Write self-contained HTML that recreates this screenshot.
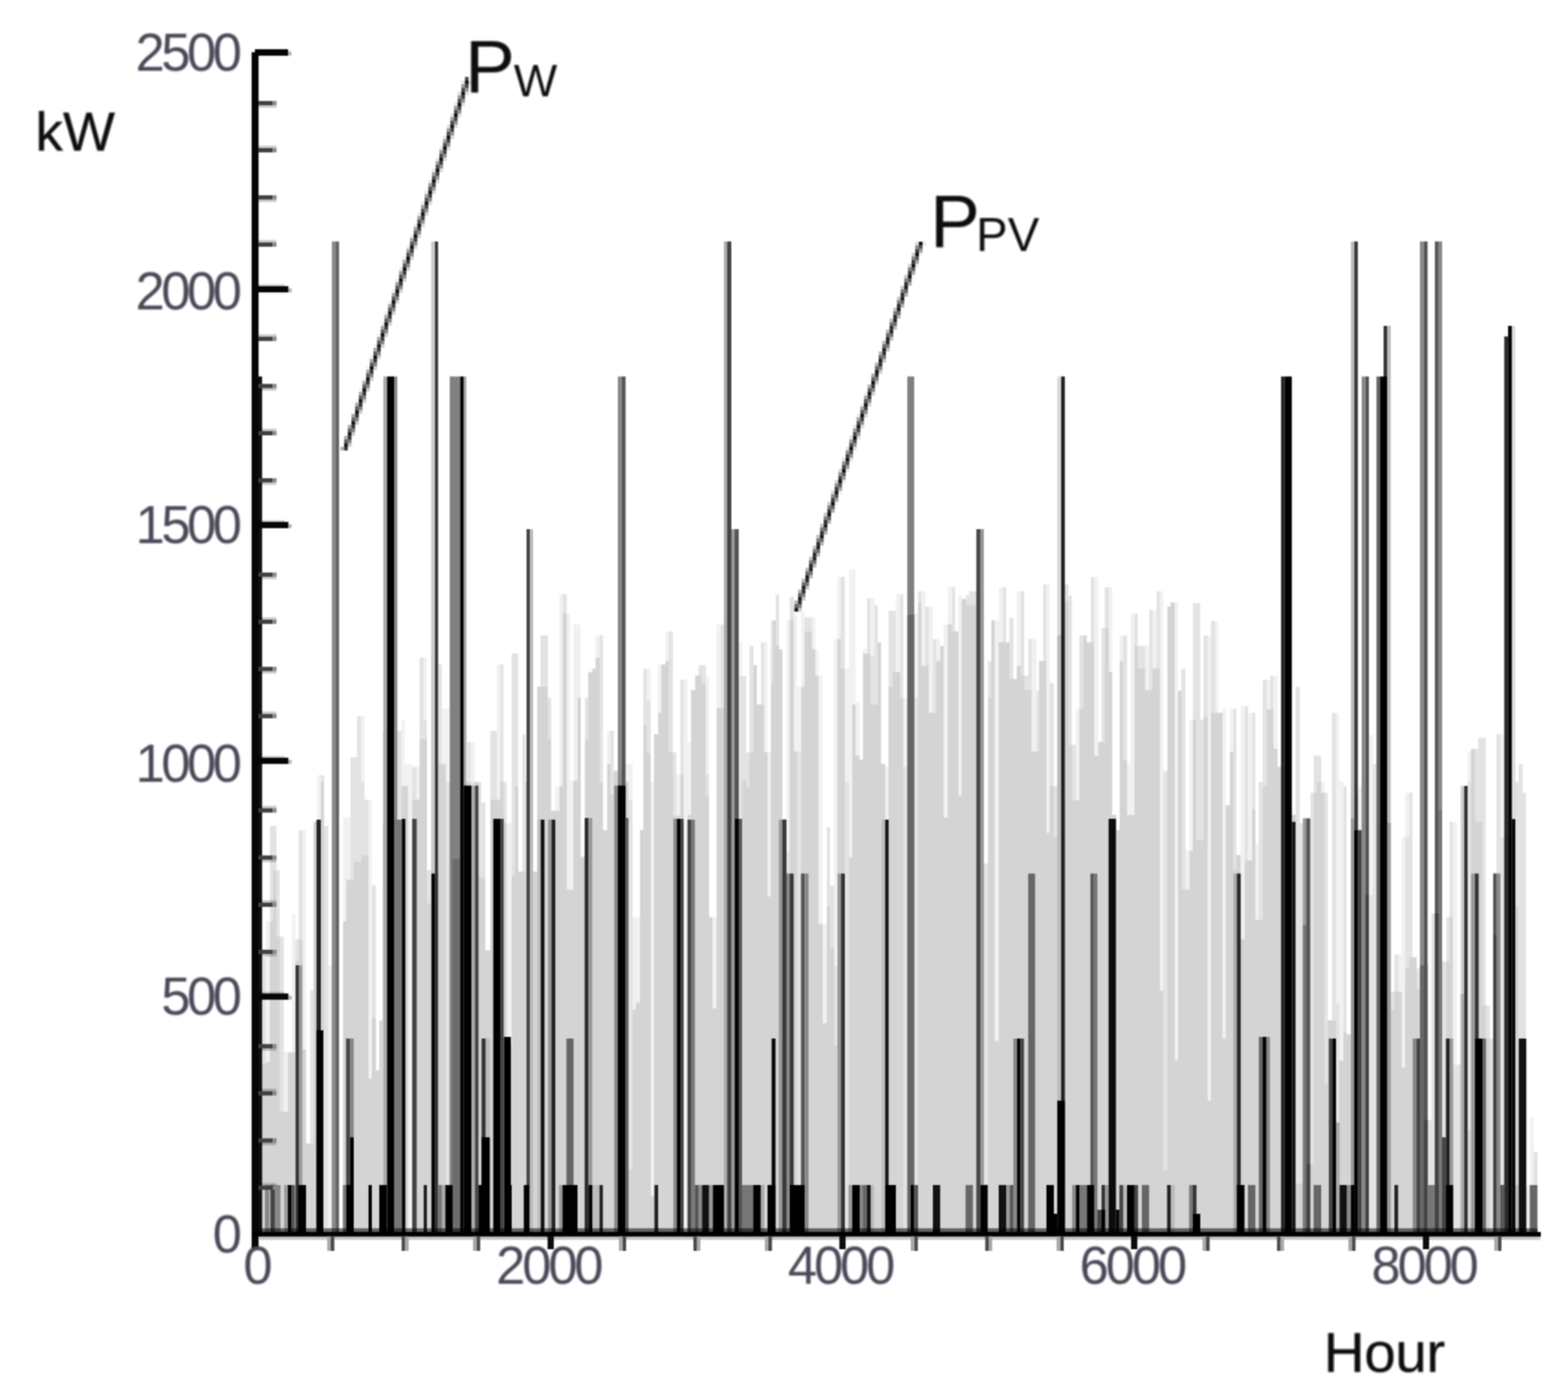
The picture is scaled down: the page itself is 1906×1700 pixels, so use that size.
<!DOCTYPE html>
<html lang="en"><head><meta charset="utf-8"><title>Annual wind and PV power output</title>
<style>html,body{margin:0;padding:0;background:#fff}body{width:1906px;height:1700px;overflow:hidden}svg{display:block}#pw rect{mix-blend-mode:darken}text{font-family:"Liberation Sans",sans-serif}</style>
</head><body>
<svg width="1906" height="1700" viewBox="0 0 1906 1700">
<defs><filter id="b" x="0" y="0" width="1906" height="1700" filterUnits="userSpaceOnUse" color-interpolation-filters="sRGB"><feConvolveMatrix order="3" kernelMatrix="1 2 1 2 4 2 1 2 1" divisor="16" edgeMode="duplicate" preserveAlpha="false"/></filter><filter id="bt" x="-5%" y="-20%" width="110%" height="140%"><feGaussianBlur stdDeviation="1.1"/></filter></defs>
<rect width="1906" height="1700" fill="#fff"/>
<g filter="url(#b)">
<g id="pv">
<rect x="314.0" y="1002.4" width="4.0" height="496.6" fill="#f1f1f1"/>
<rect x="318.0" y="1163.2" width="5.0" height="335.8" fill="#f1f1f1"/>
<rect x="323.0" y="1119.6" width="5.0" height="379.4" fill="#f1f1f1"/>
<rect x="328.0" y="1003.7" width="8.0" height="495.3" fill="#f1f1f1"/>
<rect x="336.0" y="1057.5" width="4.0" height="441.5" fill="#f1f1f1"/>
<rect x="340.0" y="1138.0" width="5.0" height="361.0" fill="#f1f1f1"/>
<rect x="345.0" y="1278.8" width="10.0" height="220.2" fill="#f1f1f1"/>
<rect x="355.0" y="1111.2" width="4.0" height="387.8" fill="#f1f1f1"/>
<rect x="359.0" y="1141.4" width="4.0" height="357.6" fill="#f1f1f1"/>
<rect x="363.0" y="1008.8" width="9.0" height="490.2" fill="#f1f1f1"/>
<rect x="372.0" y="1389.6" width="5.0" height="109.4" fill="#f1f1f1"/>
<rect x="377.0" y="1203.5" width="4.0" height="295.5" fill="#f1f1f1"/>
<rect x="381.0" y="998.7" width="5.0" height="500.3" fill="#f1f1f1"/>
<rect x="386.0" y="941.9" width="8.0" height="557.1" fill="#f1f1f1"/>
<rect x="394.0" y="1003.7" width="5.0" height="495.3" fill="#f1f1f1"/>
<rect x="399.0" y="1173.3" width="13.0" height="325.7" fill="#f1f1f1"/>
<rect x="417.0" y="993.7" width="9.0" height="505.3" fill="#f1f1f1"/>
<rect x="426.0" y="920.1" width="8.0" height="578.9" fill="#f1f1f1"/>
<rect x="434.0" y="870.6" width="9.0" height="628.4" fill="#f1f1f1"/>
<rect x="443.0" y="971.8" width="9.0" height="527.2" fill="#f1f1f1"/>
<rect x="452.0" y="1075.9" width="5.0" height="423.1" fill="#f1f1f1"/>
<rect x="457.0" y="1300.6" width="4.0" height="198.4" fill="#f1f1f1"/>
<rect x="461.0" y="1240.1" width="4.0" height="258.9" fill="#f1f1f1"/>
<rect x="465.0" y="888.2" width="23.0" height="610.8" fill="#f1f1f1"/>
<rect x="488.0" y="874.8" width="4.0" height="624.2" fill="#f1f1f1"/>
<rect x="492.0" y="928.5" width="9.0" height="570.5" fill="#f1f1f1"/>
<rect x="501.0" y="931.8" width="9.0" height="567.2" fill="#f1f1f1"/>
<rect x="510.0" y="799.2" width="9.0" height="699.8" fill="#f1f1f1"/>
<rect x="519.0" y="1057.5" width="5.0" height="441.5" fill="#f1f1f1"/>
<rect x="524.0" y="1060.8" width="9.0" height="438.2" fill="#f1f1f1"/>
<rect x="533.0" y="807.6" width="4.0" height="691.4" fill="#f1f1f1"/>
<rect x="537.0" y="861.3" width="9.0" height="637.7" fill="#f1f1f1"/>
<rect x="546.0" y="950.0" width="22.0" height="549.0" fill="#f1f1f1"/>
<rect x="568.0" y="901.6" width="9.0" height="597.4" fill="#f1f1f1"/>
<rect x="577.0" y="950.0" width="8.0" height="549.0" fill="#f1f1f1"/>
<rect x="585.0" y="975.2" width="5.0" height="523.8" fill="#f1f1f1"/>
<rect x="590.0" y="1154.8" width="6.0" height="344.2" fill="#f1f1f1"/>
<rect x="596.0" y="888.2" width="8.0" height="610.8" fill="#f1f1f1"/>
<rect x="604.0" y="807.6" width="8.0" height="691.4" fill="#f1f1f1"/>
<rect x="612.0" y="950.3" width="4.0" height="548.7" fill="#f1f1f1"/>
<rect x="616.0" y="1000.4" width="6.0" height="498.6" fill="#f1f1f1"/>
<rect x="622.0" y="794.2" width="8.0" height="704.8" fill="#f1f1f1"/>
<rect x="630.0" y="1059.1" width="5.0" height="439.9" fill="#f1f1f1"/>
<rect x="635.0" y="892.4" width="4.0" height="606.6" fill="#f1f1f1"/>
<rect x="639.0" y="950.0" width="9.0" height="549.0" fill="#f1f1f1"/>
<rect x="648.0" y="1059.1" width="5.0" height="439.9" fill="#f1f1f1"/>
<rect x="653.0" y="834.5" width="4.0" height="664.5" fill="#f1f1f1"/>
<rect x="657.0" y="772.0" width="9.0" height="727.0" fill="#f1f1f1"/>
<rect x="666.0" y="847.9" width="4.0" height="651.1" fill="#f1f1f1"/>
<rect x="670.0" y="985.3" width="5.0" height="513.7" fill="#f1f1f1"/>
<rect x="675.0" y="955.4" width="5.0" height="543.6" fill="#f1f1f1"/>
<rect x="680.0" y="722.0" width="9.0" height="777.0" fill="#f1f1f1"/>
<rect x="689.0" y="745.5" width="4.0" height="753.5" fill="#f1f1f1"/>
<rect x="693.0" y="948.6" width="4.0" height="550.4" fill="#f1f1f1"/>
<rect x="697.0" y="758.9" width="9.0" height="740.1" fill="#f1f1f1"/>
<rect x="706.0" y="1041.5" width="5.0" height="457.5" fill="#f1f1f1"/>
<rect x="711.0" y="847.9" width="4.0" height="651.1" fill="#f1f1f1"/>
<rect x="715.0" y="816.8" width="5.0" height="682.2" fill="#f1f1f1"/>
<rect x="720.0" y="812.6" width="4.0" height="686.4" fill="#f1f1f1"/>
<rect x="724.0" y="772.3" width="5.0" height="726.7" fill="#f1f1f1"/>
<rect x="729.0" y="772.0" width="4.0" height="727.0" fill="#f1f1f1"/>
<rect x="733.0" y="1008.8" width="5.0" height="490.2" fill="#f1f1f1"/>
<rect x="738.0" y="888.2" width="8.0" height="610.8" fill="#f1f1f1"/>
<rect x="746.0" y="936.9" width="14.0" height="562.1" fill="#f1f1f1"/>
<rect x="760.0" y="928.5" width="9.0" height="570.5" fill="#f1f1f1"/>
<rect x="769.0" y="1114.5" width="9.0" height="384.5" fill="#f1f1f1"/>
<rect x="778.0" y="1008.8" width="4.0" height="490.2" fill="#f1f1f1"/>
<rect x="782.0" y="812.6" width="9.0" height="686.4" fill="#f1f1f1"/>
<rect x="791.0" y="950.0" width="4.0" height="549.0" fill="#f1f1f1"/>
<rect x="795.0" y="892.4" width="5.0" height="606.6" fill="#f1f1f1"/>
<rect x="800.0" y="807.6" width="9.0" height="691.4" fill="#f1f1f1"/>
<rect x="809.0" y="767.3" width="9.0" height="731.7" fill="#f1f1f1"/>
<rect x="818.0" y="914.2" width="4.0" height="584.8" fill="#f1f1f1"/>
<rect x="822.0" y="941.1" width="5.0" height="557.9" fill="#f1f1f1"/>
<rect x="827.0" y="826.1" width="9.0" height="672.9" fill="#f1f1f1"/>
<rect x="836.0" y="901.6" width="4.0" height="597.4" fill="#f1f1f1"/>
<rect x="840.0" y="838.7" width="5.0" height="660.3" fill="#f1f1f1"/>
<rect x="845.0" y="821.0" width="4.0" height="678.0" fill="#f1f1f1"/>
<rect x="849.0" y="808.4" width="9.0" height="690.6" fill="#f1f1f1"/>
<rect x="858.0" y="821.0" width="4.0" height="678.0" fill="#f1f1f1"/>
<rect x="862.0" y="1114.5" width="9.0" height="384.5" fill="#f1f1f1"/>
<rect x="871.0" y="758.9" width="9.0" height="740.1" fill="#f1f1f1"/>
<rect x="880.0" y="753.9" width="18.0" height="745.1" fill="#f1f1f1"/>
<rect x="898.0" y="780.7" width="4.0" height="718.3" fill="#f1f1f1"/>
<rect x="902.0" y="821.0" width="5.0" height="678.0" fill="#f1f1f1"/>
<rect x="907.0" y="914.2" width="4.0" height="584.8" fill="#f1f1f1"/>
<rect x="911.0" y="784.9" width="5.0" height="714.1" fill="#f1f1f1"/>
<rect x="916.0" y="808.4" width="4.0" height="690.6" fill="#f1f1f1"/>
<rect x="920.0" y="856.3" width="5.0" height="642.7" fill="#f1f1f1"/>
<rect x="925.0" y="780.7" width="8.0" height="718.3" fill="#f1f1f1"/>
<rect x="933.0" y="914.2" width="4.0" height="584.8" fill="#f1f1f1"/>
<rect x="937.0" y="753.9" width="6.0" height="745.1" fill="#f1f1f1"/>
<rect x="943.0" y="722.0" width="4.0" height="777.0" fill="#f1f1f1"/>
<rect x="947.0" y="789.1" width="4.0" height="709.9" fill="#f1f1f1"/>
<rect x="951.0" y="995.3" width="5.0" height="503.7" fill="#f1f1f1"/>
<rect x="956.0" y="753.9" width="4.0" height="745.1" fill="#f1f1f1"/>
<rect x="960.0" y="725.3" width="5.0" height="773.7" fill="#f1f1f1"/>
<rect x="965.0" y="747.2" width="4.0" height="751.8" fill="#f1f1f1"/>
<rect x="969.0" y="834.5" width="5.0" height="664.5" fill="#f1f1f1"/>
<rect x="974.0" y="743.8" width="4.0" height="755.2" fill="#f1f1f1"/>
<rect x="978.0" y="750.5" width="13.0" height="748.5" fill="#f1f1f1"/>
<rect x="991.0" y="789.1" width="4.0" height="709.9" fill="#f1f1f1"/>
<rect x="995.0" y="821.0" width="5.0" height="678.0" fill="#f1f1f1"/>
<rect x="1000.0" y="1122.9" width="5.0" height="376.1" fill="#f1f1f1"/>
<rect x="1005.0" y="1005.4" width="4.0" height="493.6" fill="#f1f1f1"/>
<rect x="1009.0" y="1075.9" width="5.0" height="423.1" fill="#f1f1f1"/>
<rect x="1014.0" y="776.5" width="4.0" height="722.5" fill="#f1f1f1"/>
<rect x="1018.0" y="701.0" width="9.0" height="798.0" fill="#f1f1f1"/>
<rect x="1027.0" y="812.6" width="5.0" height="686.4" fill="#f1f1f1"/>
<rect x="1032.0" y="691.8" width="8.0" height="807.2" fill="#f1f1f1"/>
<rect x="1040.0" y="852.9" width="5.0" height="646.1" fill="#f1f1f1"/>
<rect x="1045.0" y="923.5" width="4.0" height="575.5" fill="#f1f1f1"/>
<rect x="1049.0" y="789.1" width="5.0" height="709.9" fill="#f1f1f1"/>
<rect x="1054.0" y="727.0" width="9.0" height="772.0" fill="#f1f1f1"/>
<rect x="1063.0" y="735.4" width="4.0" height="763.6" fill="#f1f1f1"/>
<rect x="1067.0" y="780.7" width="4.0" height="718.3" fill="#f1f1f1"/>
<rect x="1071.0" y="928.5" width="5.0" height="570.5" fill="#f1f1f1"/>
<rect x="1076.0" y="931.8" width="4.0" height="567.2" fill="#f1f1f1"/>
<rect x="1080.0" y="742.1" width="9.0" height="756.9" fill="#f1f1f1"/>
<rect x="1089.0" y="722.0" width="9.0" height="777.0" fill="#f1f1f1"/>
<rect x="1098.0" y="847.9" width="5.0" height="651.1" fill="#f1f1f1"/>
<rect x="1103.0" y="747.2" width="8.0" height="751.8" fill="#f1f1f1"/>
<rect x="1111.0" y="745.5" width="5.0" height="753.5" fill="#f1f1f1"/>
<rect x="1116.0" y="718.6" width="9.0" height="780.4" fill="#f1f1f1"/>
<rect x="1125.0" y="737.1" width="9.0" height="761.9" fill="#f1f1f1"/>
<rect x="1134.0" y="776.5" width="9.0" height="722.5" fill="#f1f1f1"/>
<rect x="1143.0" y="784.9" width="4.0" height="714.1" fill="#f1f1f1"/>
<rect x="1147.0" y="758.9" width="5.0" height="740.1" fill="#f1f1f1"/>
<rect x="1152.0" y="713.6" width="9.0" height="785.4" fill="#f1f1f1"/>
<rect x="1161.0" y="767.3" width="4.0" height="731.7" fill="#f1f1f1"/>
<rect x="1165.0" y="723.7" width="4.0" height="775.3" fill="#f1f1f1"/>
<rect x="1169.0" y="727.9" width="5.0" height="771.1" fill="#f1f1f1"/>
<rect x="1174.0" y="723.7" width="4.0" height="775.3" fill="#f1f1f1"/>
<rect x="1178.0" y="718.6" width="9.0" height="780.4" fill="#f1f1f1"/>
<rect x="1187.0" y="735.4" width="9.0" height="763.6" fill="#f1f1f1"/>
<rect x="1196.0" y="1049.1" width="5.0" height="449.9" fill="#f1f1f1"/>
<rect x="1201.0" y="803.4" width="4.0" height="695.6" fill="#f1f1f1"/>
<rect x="1205.0" y="753.9" width="9.0" height="745.1" fill="#f1f1f1"/>
<rect x="1214.0" y="713.6" width="9.0" height="785.4" fill="#f1f1f1"/>
<rect x="1223.0" y="780.7" width="4.0" height="718.3" fill="#f1f1f1"/>
<rect x="1227.0" y="750.5" width="5.0" height="748.5" fill="#f1f1f1"/>
<rect x="1232.0" y="825.2" width="4.0" height="673.8" fill="#f1f1f1"/>
<rect x="1236.0" y="718.6" width="9.0" height="780.4" fill="#f1f1f1"/>
<rect x="1245.0" y="821.0" width="5.0" height="678.0" fill="#f1f1f1"/>
<rect x="1250.0" y="776.5" width="10.0" height="722.5" fill="#f1f1f1"/>
<rect x="1260.0" y="839.5" width="3.0" height="659.5" fill="#f1f1f1"/>
<rect x="1263.0" y="803.4" width="5.0" height="695.6" fill="#f1f1f1"/>
<rect x="1268.0" y="710.2" width="8.0" height="788.8" fill="#f1f1f1"/>
<rect x="1276.0" y="830.3" width="5.0" height="668.7" fill="#f1f1f1"/>
<rect x="1281.0" y="955.4" width="4.0" height="543.6" fill="#f1f1f1"/>
<rect x="1285.0" y="772.3" width="9.0" height="726.7" fill="#f1f1f1"/>
<rect x="1294.0" y="710.2" width="5.0" height="788.8" fill="#f1f1f1"/>
<rect x="1299.0" y="723.7" width="4.0" height="775.3" fill="#f1f1f1"/>
<rect x="1303.0" y="905.0" width="5.0" height="594.0" fill="#f1f1f1"/>
<rect x="1308.0" y="861.3" width="4.0" height="637.7" fill="#f1f1f1"/>
<rect x="1312.0" y="772.3" width="9.0" height="726.7" fill="#f1f1f1"/>
<rect x="1321.0" y="780.7" width="5.0" height="718.3" fill="#f1f1f1"/>
<rect x="1326.0" y="701.0" width="9.0" height="798.0" fill="#f1f1f1"/>
<rect x="1335.0" y="901.6" width="4.0" height="597.4" fill="#f1f1f1"/>
<rect x="1339.0" y="763.1" width="4.0" height="735.9" fill="#f1f1f1"/>
<rect x="1343.0" y="713.6" width="9.0" height="785.4" fill="#f1f1f1"/>
<rect x="1352.0" y="990.3" width="5.0" height="508.7" fill="#f1f1f1"/>
<rect x="1357.0" y="1008.8" width="4.0" height="490.2" fill="#f1f1f1"/>
<rect x="1361.0" y="772.3" width="9.0" height="726.7" fill="#f1f1f1"/>
<rect x="1370.0" y="928.5" width="4.0" height="570.5" fill="#f1f1f1"/>
<rect x="1374.0" y="745.5" width="9.0" height="753.5" fill="#f1f1f1"/>
<rect x="1383.0" y="784.9" width="14.0" height="714.1" fill="#f1f1f1"/>
<rect x="1397.0" y="741.3" width="9.0" height="757.7" fill="#f1f1f1"/>
<rect x="1406.0" y="718.6" width="8.0" height="780.4" fill="#f1f1f1"/>
<rect x="1414.0" y="936.9" width="5.0" height="562.1" fill="#f1f1f1"/>
<rect x="1419.0" y="737.1" width="4.0" height="761.9" fill="#f1f1f1"/>
<rect x="1423.0" y="732.0" width="9.0" height="767.0" fill="#f1f1f1"/>
<rect x="1432.0" y="839.5" width="4.0" height="659.5" fill="#f1f1f1"/>
<rect x="1436.0" y="812.6" width="5.0" height="686.4" fill="#f1f1f1"/>
<rect x="1441.0" y="1033.9" width="5.0" height="465.1" fill="#f1f1f1"/>
<rect x="1446.0" y="874.8" width="4.0" height="624.2" fill="#f1f1f1"/>
<rect x="1450.0" y="732.9" width="9.0" height="766.1" fill="#f1f1f1"/>
<rect x="1459.0" y="874.8" width="4.0" height="624.2" fill="#f1f1f1"/>
<rect x="1463.0" y="772.3" width="9.0" height="726.7" fill="#f1f1f1"/>
<rect x="1472.0" y="754.7" width="9.0" height="744.3" fill="#f1f1f1"/>
<rect x="1481.0" y="866.4" width="5.0" height="632.6" fill="#f1f1f1"/>
<rect x="1486.0" y="861.3" width="4.0" height="637.7" fill="#f1f1f1"/>
<rect x="1490.0" y="978.5" width="5.0" height="520.5" fill="#f1f1f1"/>
<rect x="1495.0" y="861.3" width="8.0" height="637.7" fill="#f1f1f1"/>
<rect x="1503.0" y="1039.0" width="5.0" height="460.0" fill="#f1f1f1"/>
<rect x="1508.0" y="858.0" width="9.0" height="641.0" fill="#f1f1f1"/>
<rect x="1517.0" y="866.4" width="9.0" height="632.6" fill="#f1f1f1"/>
<rect x="1526.0" y="1025.6" width="4.0" height="473.4" fill="#f1f1f1"/>
<rect x="1530.0" y="950.3" width="5.0" height="548.7" fill="#f1f1f1"/>
<rect x="1535.0" y="826.1" width="9.0" height="672.9" fill="#f1f1f1"/>
<rect x="1544.0" y="821.0" width="9.0" height="678.0" fill="#f1f1f1"/>
<rect x="1553.0" y="931.8" width="17.0" height="567.2" fill="#f1f1f1"/>
<rect x="1570.0" y="990.3" width="5.0" height="508.7" fill="#f1f1f1"/>
<rect x="1575.0" y="834.5" width="5.0" height="664.5" fill="#f1f1f1"/>
<rect x="1580.0" y="1000.4" width="4.0" height="498.6" fill="#f1f1f1"/>
<rect x="1584.0" y="994.5" width="9.0" height="504.5" fill="#f1f1f1"/>
<rect x="1593.0" y="963.7" width="4.0" height="535.3" fill="#f1f1f1"/>
<rect x="1597.0" y="918.4" width="9.0" height="580.6" fill="#f1f1f1"/>
<rect x="1606.0" y="950.3" width="4.0" height="548.7" fill="#f1f1f1"/>
<rect x="1610.0" y="963.4" width="4.0" height="535.6" fill="#f1f1f1"/>
<rect x="1614.0" y="1240.1" width="5.0" height="258.9" fill="#f1f1f1"/>
<rect x="1619.0" y="866.4" width="9.0" height="632.6" fill="#f1f1f1"/>
<rect x="1628.0" y="950.0" width="5.0" height="549.0" fill="#f1f1f1"/>
<rect x="1633.0" y="955.4" width="4.0" height="543.6" fill="#f1f1f1"/>
<rect x="1637.0" y="1256.9" width="5.0" height="242.1" fill="#f1f1f1"/>
<rect x="1642.0" y="965.4" width="9.0" height="533.6" fill="#f1f1f1"/>
<rect x="1651.0" y="955.4" width="4.0" height="543.6" fill="#f1f1f1"/>
<rect x="1655.0" y="950.0" width="9.0" height="549.0" fill="#f1f1f1"/>
<rect x="1664.0" y="893.2" width="5.0" height="605.8" fill="#f1f1f1"/>
<rect x="1669.0" y="928.5" width="4.0" height="570.5" fill="#f1f1f1"/>
<rect x="1673.0" y="1000.4" width="17.0" height="498.6" fill="#f1f1f1"/>
<rect x="1690.0" y="1205.2" width="5.0" height="293.8" fill="#f1f1f1"/>
<rect x="1695.0" y="1159.9" width="9.0" height="339.1" fill="#f1f1f1"/>
<rect x="1704.0" y="1017.2" width="4.0" height="481.8" fill="#f1f1f1"/>
<rect x="1708.0" y="963.4" width="9.0" height="535.6" fill="#f1f1f1"/>
<rect x="1717.0" y="1163.2" width="5.0" height="335.8" fill="#f1f1f1"/>
<rect x="1722.0" y="1176.7" width="4.0" height="322.3" fill="#f1f1f1"/>
<rect x="1726.0" y="1173.3" width="9.0" height="325.7" fill="#f1f1f1"/>
<rect x="1735.0" y="1361.0" width="5.0" height="138.0" fill="#f1f1f1"/>
<rect x="1740.0" y="1110.3" width="13.0" height="388.7" fill="#f1f1f1"/>
<rect x="1753.0" y="1168.3" width="5.0" height="330.7" fill="#f1f1f1"/>
<rect x="1758.0" y="1114.5" width="4.0" height="384.5" fill="#f1f1f1"/>
<rect x="1762.0" y="998.7" width="9.0" height="500.3" fill="#f1f1f1"/>
<rect x="1771.0" y="1293.9" width="5.0" height="205.1" fill="#f1f1f1"/>
<rect x="1776.0" y="955.0" width="8.0" height="544.0" fill="#f1f1f1"/>
<rect x="1784.0" y="914.2" width="4.0" height="584.8" fill="#f1f1f1"/>
<rect x="1788.0" y="910.0" width="9.0" height="589.0" fill="#f1f1f1"/>
<rect x="1797.0" y="896.6" width="9.0" height="602.4" fill="#f1f1f1"/>
<rect x="1806.0" y="1222.0" width="5.0" height="277.0" fill="#f1f1f1"/>
<rect x="1811.0" y="1262.0" width="4.0" height="237.0" fill="#f1f1f1"/>
<rect x="1815.0" y="1060.8" width="4.0" height="438.2" fill="#f1f1f1"/>
<rect x="1819.0" y="892.4" width="9.0" height="606.6" fill="#f1f1f1"/>
<rect x="1828.0" y="1017.2" width="14.0" height="481.8" fill="#f1f1f1"/>
<rect x="1842.0" y="950.0" width="4.0" height="549.0" fill="#f1f1f1"/>
<rect x="1846.0" y="928.5" width="5.0" height="570.5" fill="#f1f1f1"/>
<rect x="1851.0" y="963.4" width="4.0" height="535.6" fill="#f1f1f1"/>
<rect x="1855.0" y="1440.8" width="5.0" height="58.2" fill="#f1f1f1"/>
<rect x="1860.0" y="1357.7" width="4.0" height="141.3" fill="#f1f1f1"/>
<rect x="1864.0" y="1399.7" width="5.0" height="99.3" fill="#f1f1f1"/>
<rect x="314.0" y="1006.0" width="4.0" height="493.0" fill="#e3e3e3"/>
<rect x="318.0" y="1163.2" width="5.0" height="335.8" fill="#e3e3e3"/>
<rect x="323.0" y="1290.5" width="5.0" height="208.5" fill="#e3e3e3"/>
<rect x="328.0" y="1003.7" width="8.0" height="495.3" fill="#e3e3e3"/>
<rect x="336.0" y="1057.5" width="4.0" height="441.5" fill="#e3e3e3"/>
<rect x="340.0" y="1138.0" width="5.0" height="361.0" fill="#e3e3e3"/>
<rect x="345.0" y="1351.0" width="5.0" height="148.0" fill="#e3e3e3"/>
<rect x="350.0" y="1278.8" width="9.0" height="220.2" fill="#e3e3e3"/>
<rect x="359.0" y="1141.4" width="4.0" height="357.6" fill="#e3e3e3"/>
<rect x="363.0" y="1008.8" width="5.0" height="490.2" fill="#e3e3e3"/>
<rect x="368.0" y="1275.4" width="4.0" height="223.6" fill="#e3e3e3"/>
<rect x="372.0" y="1389.6" width="5.0" height="109.4" fill="#e3e3e3"/>
<rect x="377.0" y="1203.5" width="4.0" height="295.5" fill="#e3e3e3"/>
<rect x="381.0" y="998.7" width="9.0" height="500.3" fill="#e3e3e3"/>
<rect x="390.0" y="941.9" width="4.0" height="557.1" fill="#e3e3e3"/>
<rect x="394.0" y="1003.7" width="5.0" height="495.3" fill="#e3e3e3"/>
<rect x="403.0" y="1173.3" width="9.0" height="325.7" fill="#e3e3e3"/>
<rect x="417.0" y="1119.6" width="4.0" height="379.4" fill="#e3e3e3"/>
<rect x="421.0" y="1069.2" width="5.0" height="429.8" fill="#e3e3e3"/>
<rect x="426.0" y="920.1" width="8.0" height="578.9" fill="#e3e3e3"/>
<rect x="434.0" y="870.6" width="5.0" height="628.4" fill="#e3e3e3"/>
<rect x="439.0" y="950.0" width="4.0" height="549.0" fill="#e3e3e3"/>
<rect x="443.0" y="971.8" width="5.0" height="527.2" fill="#e3e3e3"/>
<rect x="448.0" y="1310.7" width="4.0" height="188.3" fill="#e3e3e3"/>
<rect x="452.0" y="1075.9" width="5.0" height="423.1" fill="#e3e3e3"/>
<rect x="457.0" y="1300.6" width="4.0" height="198.4" fill="#e3e3e3"/>
<rect x="461.0" y="1240.1" width="4.0" height="258.9" fill="#e3e3e3"/>
<rect x="465.0" y="888.2" width="23.0" height="610.8" fill="#e3e3e3"/>
<rect x="488.0" y="955.4" width="8.0" height="543.6" fill="#e3e3e3"/>
<rect x="501.0" y="931.8" width="5.0" height="567.2" fill="#e3e3e3"/>
<rect x="506.0" y="971.8" width="4.0" height="527.2" fill="#e3e3e3"/>
<rect x="510.0" y="799.2" width="5.0" height="699.8" fill="#e3e3e3"/>
<rect x="515.0" y="874.8" width="4.0" height="624.2" fill="#e3e3e3"/>
<rect x="519.0" y="1057.5" width="5.0" height="441.5" fill="#e3e3e3"/>
<rect x="524.0" y="1060.8" width="9.0" height="438.2" fill="#e3e3e3"/>
<rect x="533.0" y="807.6" width="4.0" height="691.4" fill="#e3e3e3"/>
<rect x="537.0" y="928.5" width="5.0" height="570.5" fill="#e3e3e3"/>
<rect x="542.0" y="950.0" width="26.0" height="549.0" fill="#e3e3e3"/>
<rect x="568.0" y="901.6" width="4.0" height="597.4" fill="#e3e3e3"/>
<rect x="572.0" y="950.0" width="13.0" height="549.0" fill="#e3e3e3"/>
<rect x="585.0" y="975.2" width="5.0" height="523.8" fill="#e3e3e3"/>
<rect x="590.0" y="1154.8" width="6.0" height="344.2" fill="#e3e3e3"/>
<rect x="596.0" y="888.2" width="8.0" height="610.8" fill="#e3e3e3"/>
<rect x="604.0" y="971.8" width="4.0" height="527.2" fill="#e3e3e3"/>
<rect x="608.0" y="807.6" width="4.0" height="691.4" fill="#e3e3e3"/>
<rect x="612.0" y="950.3" width="4.0" height="548.7" fill="#e3e3e3"/>
<rect x="616.0" y="1270.4" width="6.0" height="228.6" fill="#e3e3e3"/>
<rect x="622.0" y="794.2" width="8.0" height="704.8" fill="#e3e3e3"/>
<rect x="630.0" y="1059.1" width="5.0" height="439.9" fill="#e3e3e3"/>
<rect x="635.0" y="892.4" width="4.0" height="606.6" fill="#e3e3e3"/>
<rect x="639.0" y="950.0" width="9.0" height="549.0" fill="#e3e3e3"/>
<rect x="648.0" y="1059.1" width="5.0" height="439.9" fill="#e3e3e3"/>
<rect x="653.0" y="834.5" width="4.0" height="664.5" fill="#e3e3e3"/>
<rect x="657.0" y="772.0" width="9.0" height="727.0" fill="#e3e3e3"/>
<rect x="666.0" y="847.9" width="4.0" height="651.1" fill="#e3e3e3"/>
<rect x="670.0" y="985.3" width="10.0" height="513.7" fill="#e3e3e3"/>
<rect x="680.0" y="955.4" width="4.0" height="543.6" fill="#e3e3e3"/>
<rect x="684.0" y="722.0" width="5.0" height="777.0" fill="#e3e3e3"/>
<rect x="689.0" y="1081.0" width="8.0" height="418.0" fill="#e3e3e3"/>
<rect x="697.0" y="948.6" width="5.0" height="550.4" fill="#e3e3e3"/>
<rect x="702.0" y="847.9" width="4.0" height="651.1" fill="#e3e3e3"/>
<rect x="706.0" y="1041.5" width="5.0" height="457.5" fill="#e3e3e3"/>
<rect x="711.0" y="847.9" width="4.0" height="651.1" fill="#e3e3e3"/>
<rect x="715.0" y="816.8" width="5.0" height="682.2" fill="#e3e3e3"/>
<rect x="720.0" y="812.6" width="4.0" height="686.4" fill="#e3e3e3"/>
<rect x="724.0" y="799.2" width="5.0" height="699.8" fill="#e3e3e3"/>
<rect x="729.0" y="772.0" width="4.0" height="727.0" fill="#e3e3e3"/>
<rect x="733.0" y="1008.8" width="5.0" height="490.2" fill="#e3e3e3"/>
<rect x="738.0" y="928.5" width="4.0" height="570.5" fill="#e3e3e3"/>
<rect x="742.0" y="888.2" width="4.0" height="610.8" fill="#e3e3e3"/>
<rect x="746.0" y="936.9" width="14.0" height="562.1" fill="#e3e3e3"/>
<rect x="760.0" y="950.0" width="4.0" height="549.0" fill="#e3e3e3"/>
<rect x="764.0" y="971.8" width="5.0" height="527.2" fill="#e3e3e3"/>
<rect x="769.0" y="1227.0" width="4.0" height="272.0" fill="#e3e3e3"/>
<rect x="773.0" y="1218.6" width="5.0" height="280.4" fill="#e3e3e3"/>
<rect x="778.0" y="1008.8" width="4.0" height="490.2" fill="#e3e3e3"/>
<rect x="782.0" y="812.6" width="4.0" height="686.4" fill="#e3e3e3"/>
<rect x="786.0" y="851.3" width="5.0" height="647.7" fill="#e3e3e3"/>
<rect x="791.0" y="1453.4" width="4.0" height="45.6" fill="#e3e3e3"/>
<rect x="795.0" y="892.4" width="5.0" height="606.6" fill="#e3e3e3"/>
<rect x="800.0" y="866.4" width="4.0" height="632.6" fill="#e3e3e3"/>
<rect x="804.0" y="807.6" width="5.0" height="691.4" fill="#e3e3e3"/>
<rect x="809.0" y="803.4" width="4.0" height="695.6" fill="#e3e3e3"/>
<rect x="813.0" y="767.3" width="5.0" height="731.7" fill="#e3e3e3"/>
<rect x="818.0" y="914.2" width="4.0" height="584.8" fill="#e3e3e3"/>
<rect x="822.0" y="991.1" width="5.0" height="507.9" fill="#e3e3e3"/>
<rect x="827.0" y="826.1" width="4.0" height="672.9" fill="#e3e3e3"/>
<rect x="836.0" y="990.3" width="4.0" height="508.7" fill="#e3e3e3"/>
<rect x="840.0" y="838.7" width="5.0" height="660.3" fill="#e3e3e3"/>
<rect x="845.0" y="821.0" width="4.0" height="678.0" fill="#e3e3e3"/>
<rect x="849.0" y="808.4" width="9.0" height="690.6" fill="#e3e3e3"/>
<rect x="858.0" y="941.1" width="4.0" height="557.9" fill="#e3e3e3"/>
<rect x="862.0" y="1114.5" width="4.0" height="384.5" fill="#e3e3e3"/>
<rect x="866.0" y="1225.4" width="5.0" height="273.6" fill="#e3e3e3"/>
<rect x="871.0" y="860.5" width="5.0" height="638.5" fill="#e3e3e3"/>
<rect x="876.0" y="758.9" width="4.0" height="740.1" fill="#e3e3e3"/>
<rect x="880.0" y="753.9" width="18.0" height="745.1" fill="#e3e3e3"/>
<rect x="898.0" y="821.0" width="9.0" height="678.0" fill="#e3e3e3"/>
<rect x="907.0" y="914.2" width="4.0" height="584.8" fill="#e3e3e3"/>
<rect x="911.0" y="784.9" width="5.0" height="714.1" fill="#e3e3e3"/>
<rect x="916.0" y="808.4" width="4.0" height="690.6" fill="#e3e3e3"/>
<rect x="920.0" y="856.3" width="5.0" height="642.7" fill="#e3e3e3"/>
<rect x="925.0" y="780.7" width="4.0" height="718.3" fill="#e3e3e3"/>
<rect x="929.0" y="914.2" width="4.0" height="584.8" fill="#e3e3e3"/>
<rect x="933.0" y="1089.4" width="4.0" height="409.6" fill="#e3e3e3"/>
<rect x="937.0" y="753.9" width="6.0" height="745.1" fill="#e3e3e3"/>
<rect x="943.0" y="722.0" width="4.0" height="777.0" fill="#e3e3e3"/>
<rect x="947.0" y="789.1" width="4.0" height="709.9" fill="#e3e3e3"/>
<rect x="951.0" y="995.3" width="5.0" height="503.7" fill="#e3e3e3"/>
<rect x="956.0" y="1035.6" width="4.0" height="463.4" fill="#e3e3e3"/>
<rect x="960.0" y="725.3" width="5.0" height="773.7" fill="#e3e3e3"/>
<rect x="965.0" y="913.4" width="9.0" height="585.6" fill="#e3e3e3"/>
<rect x="974.0" y="834.5" width="4.0" height="664.5" fill="#e3e3e3"/>
<rect x="978.0" y="750.5" width="9.0" height="748.5" fill="#e3e3e3"/>
<rect x="987.0" y="789.1" width="4.0" height="709.9" fill="#e3e3e3"/>
<rect x="991.0" y="821.0" width="4.0" height="678.0" fill="#e3e3e3"/>
<rect x="995.0" y="1122.9" width="5.0" height="376.1" fill="#e3e3e3"/>
<rect x="1000.0" y="1243.5" width="5.0" height="255.5" fill="#e3e3e3"/>
<rect x="1005.0" y="1005.4" width="4.0" height="493.6" fill="#e3e3e3"/>
<rect x="1009.0" y="1075.9" width="5.0" height="423.1" fill="#e3e3e3"/>
<rect x="1014.0" y="1173.3" width="4.0" height="325.7" fill="#e3e3e3"/>
<rect x="1018.0" y="776.5" width="4.0" height="722.5" fill="#e3e3e3"/>
<rect x="1022.0" y="701.0" width="5.0" height="798.0" fill="#e3e3e3"/>
<rect x="1027.0" y="950.0" width="5.0" height="549.0" fill="#e3e3e3"/>
<rect x="1032.0" y="1042.3" width="4.0" height="456.7" fill="#e3e3e3"/>
<rect x="1036.0" y="856.3" width="4.0" height="642.7" fill="#e3e3e3"/>
<rect x="1040.0" y="918.4" width="5.0" height="580.6" fill="#e3e3e3"/>
<rect x="1045.0" y="923.5" width="4.0" height="575.5" fill="#e3e3e3"/>
<rect x="1049.0" y="794.2" width="5.0" height="704.8" fill="#e3e3e3"/>
<rect x="1054.0" y="727.0" width="4.0" height="772.0" fill="#e3e3e3"/>
<rect x="1058.0" y="797.5" width="5.0" height="701.5" fill="#e3e3e3"/>
<rect x="1063.0" y="735.4" width="4.0" height="763.6" fill="#e3e3e3"/>
<rect x="1067.0" y="780.7" width="4.0" height="718.3" fill="#e3e3e3"/>
<rect x="1071.0" y="928.5" width="5.0" height="570.5" fill="#e3e3e3"/>
<rect x="1076.0" y="998.7" width="4.0" height="500.3" fill="#e3e3e3"/>
<rect x="1080.0" y="742.1" width="9.0" height="756.9" fill="#e3e3e3"/>
<rect x="1089.0" y="816.8" width="5.0" height="682.2" fill="#e3e3e3"/>
<rect x="1094.0" y="722.0" width="4.0" height="777.0" fill="#e3e3e3"/>
<rect x="1098.0" y="931.8" width="5.0" height="567.2" fill="#e3e3e3"/>
<rect x="1103.0" y="747.2" width="8.0" height="751.8" fill="#e3e3e3"/>
<rect x="1111.0" y="847.9" width="5.0" height="651.1" fill="#e3e3e3"/>
<rect x="1116.0" y="718.6" width="4.0" height="780.4" fill="#e3e3e3"/>
<rect x="1120.0" y="809.3" width="5.0" height="689.7" fill="#e3e3e3"/>
<rect x="1125.0" y="737.1" width="4.0" height="761.9" fill="#e3e3e3"/>
<rect x="1129.0" y="866.4" width="5.0" height="632.6" fill="#e3e3e3"/>
<rect x="1134.0" y="776.5" width="4.0" height="722.5" fill="#e3e3e3"/>
<rect x="1138.0" y="803.4" width="5.0" height="695.6" fill="#e3e3e3"/>
<rect x="1143.0" y="784.9" width="4.0" height="714.1" fill="#e3e3e3"/>
<rect x="1147.0" y="993.7" width="5.0" height="505.3" fill="#e3e3e3"/>
<rect x="1152.0" y="758.9" width="5.0" height="740.1" fill="#e3e3e3"/>
<rect x="1157.0" y="713.6" width="4.0" height="785.4" fill="#e3e3e3"/>
<rect x="1161.0" y="767.3" width="4.0" height="731.7" fill="#e3e3e3"/>
<rect x="1165.0" y="966.8" width="4.0" height="532.2" fill="#e3e3e3"/>
<rect x="1169.0" y="727.9" width="5.0" height="771.1" fill="#e3e3e3"/>
<rect x="1174.0" y="723.7" width="4.0" height="775.3" fill="#e3e3e3"/>
<rect x="1178.0" y="718.6" width="9.0" height="780.4" fill="#e3e3e3"/>
<rect x="1187.0" y="735.4" width="9.0" height="763.6" fill="#e3e3e3"/>
<rect x="1196.0" y="1049.1" width="5.0" height="449.9" fill="#e3e3e3"/>
<rect x="1201.0" y="803.4" width="4.0" height="695.6" fill="#e3e3e3"/>
<rect x="1205.0" y="753.9" width="4.0" height="745.1" fill="#e3e3e3"/>
<rect x="1209.0" y="1265.3" width="5.0" height="233.7" fill="#e3e3e3"/>
<rect x="1214.0" y="780.7" width="5.0" height="718.3" fill="#e3e3e3"/>
<rect x="1219.0" y="713.6" width="4.0" height="785.4" fill="#e3e3e3"/>
<rect x="1223.0" y="780.7" width="4.0" height="718.3" fill="#e3e3e3"/>
<rect x="1227.0" y="750.5" width="5.0" height="748.5" fill="#e3e3e3"/>
<rect x="1232.0" y="825.2" width="4.0" height="673.8" fill="#e3e3e3"/>
<rect x="1236.0" y="809.3" width="5.0" height="689.7" fill="#e3e3e3"/>
<rect x="1241.0" y="718.6" width="4.0" height="780.4" fill="#e3e3e3"/>
<rect x="1245.0" y="821.0" width="5.0" height="678.0" fill="#e3e3e3"/>
<rect x="1250.0" y="776.5" width="4.0" height="722.5" fill="#e3e3e3"/>
<rect x="1254.0" y="913.4" width="6.0" height="585.6" fill="#e3e3e3"/>
<rect x="1260.0" y="839.5" width="3.0" height="659.5" fill="#e3e3e3"/>
<rect x="1263.0" y="803.4" width="5.0" height="695.6" fill="#e3e3e3"/>
<rect x="1268.0" y="710.2" width="4.0" height="788.8" fill="#e3e3e3"/>
<rect x="1272.0" y="1012.1" width="4.0" height="486.9" fill="#e3e3e3"/>
<rect x="1276.0" y="830.3" width="5.0" height="668.7" fill="#e3e3e3"/>
<rect x="1281.0" y="955.0" width="4.0" height="544.0" fill="#e3e3e3"/>
<rect x="1285.0" y="772.3" width="9.0" height="726.7" fill="#e3e3e3"/>
<rect x="1294.0" y="710.2" width="5.0" height="788.8" fill="#e3e3e3"/>
<rect x="1299.0" y="723.7" width="4.0" height="775.3" fill="#e3e3e3"/>
<rect x="1303.0" y="905.0" width="5.0" height="594.0" fill="#e3e3e3"/>
<rect x="1308.0" y="972.7" width="4.0" height="526.3" fill="#e3e3e3"/>
<rect x="1312.0" y="772.3" width="9.0" height="726.7" fill="#e3e3e3"/>
<rect x="1321.0" y="780.7" width="5.0" height="718.3" fill="#e3e3e3"/>
<rect x="1326.0" y="701.0" width="4.0" height="798.0" fill="#e3e3e3"/>
<rect x="1330.0" y="918.4" width="5.0" height="580.6" fill="#e3e3e3"/>
<rect x="1335.0" y="901.6" width="4.0" height="597.4" fill="#e3e3e3"/>
<rect x="1339.0" y="763.1" width="4.0" height="735.9" fill="#e3e3e3"/>
<rect x="1343.0" y="713.6" width="5.0" height="785.4" fill="#e3e3e3"/>
<rect x="1348.0" y="816.8" width="4.0" height="682.2" fill="#e3e3e3"/>
<rect x="1352.0" y="990.3" width="5.0" height="508.7" fill="#e3e3e3"/>
<rect x="1357.0" y="1008.8" width="4.0" height="490.2" fill="#e3e3e3"/>
<rect x="1361.0" y="803.4" width="4.0" height="695.6" fill="#e3e3e3"/>
<rect x="1365.0" y="772.3" width="5.0" height="726.7" fill="#e3e3e3"/>
<rect x="1370.0" y="990.3" width="9.0" height="508.7" fill="#e3e3e3"/>
<rect x="1379.0" y="745.5" width="4.0" height="753.5" fill="#e3e3e3"/>
<rect x="1383.0" y="784.9" width="9.0" height="714.1" fill="#e3e3e3"/>
<rect x="1392.0" y="838.7" width="5.0" height="660.3" fill="#e3e3e3"/>
<rect x="1397.0" y="741.3" width="4.0" height="757.7" fill="#e3e3e3"/>
<rect x="1401.0" y="812.6" width="5.0" height="686.4" fill="#e3e3e3"/>
<rect x="1406.0" y="718.6" width="4.0" height="780.4" fill="#e3e3e3"/>
<rect x="1410.0" y="1203.5" width="4.0" height="295.5" fill="#e3e3e3"/>
<rect x="1414.0" y="936.9" width="5.0" height="562.1" fill="#e3e3e3"/>
<rect x="1419.0" y="737.1" width="4.0" height="761.9" fill="#e3e3e3"/>
<rect x="1423.0" y="732.0" width="5.0" height="767.0" fill="#e3e3e3"/>
<rect x="1428.0" y="1288.8" width="4.0" height="210.2" fill="#e3e3e3"/>
<rect x="1432.0" y="839.5" width="4.0" height="659.5" fill="#e3e3e3"/>
<rect x="1436.0" y="812.6" width="5.0" height="686.4" fill="#e3e3e3"/>
<rect x="1441.0" y="1081.0" width="5.0" height="418.0" fill="#e3e3e3"/>
<rect x="1446.0" y="1033.9" width="4.0" height="465.1" fill="#e3e3e3"/>
<rect x="1450.0" y="732.9" width="9.0" height="766.1" fill="#e3e3e3"/>
<rect x="1459.0" y="874.8" width="4.0" height="624.2" fill="#e3e3e3"/>
<rect x="1463.0" y="772.3" width="5.0" height="726.7" fill="#e3e3e3"/>
<rect x="1468.0" y="1337.5" width="4.0" height="161.5" fill="#e3e3e3"/>
<rect x="1472.0" y="754.7" width="5.0" height="744.3" fill="#e3e3e3"/>
<rect x="1477.0" y="866.4" width="9.0" height="632.6" fill="#e3e3e3"/>
<rect x="1486.0" y="1262.0" width="4.0" height="237.0" fill="#e3e3e3"/>
<rect x="1490.0" y="978.5" width="5.0" height="520.5" fill="#e3e3e3"/>
<rect x="1495.0" y="914.2" width="4.0" height="584.8" fill="#e3e3e3"/>
<rect x="1499.0" y="861.3" width="4.0" height="637.7" fill="#e3e3e3"/>
<rect x="1503.0" y="1039.0" width="5.0" height="460.0" fill="#e3e3e3"/>
<rect x="1508.0" y="1141.4" width="5.0" height="357.6" fill="#e3e3e3"/>
<rect x="1513.0" y="858.0" width="4.0" height="641.0" fill="#e3e3e3"/>
<rect x="1517.0" y="1045.7" width="5.0" height="453.3" fill="#e3e3e3"/>
<rect x="1522.0" y="866.4" width="4.0" height="632.6" fill="#e3e3e3"/>
<rect x="1526.0" y="1117.9" width="4.0" height="381.1" fill="#e3e3e3"/>
<rect x="1530.0" y="950.3" width="5.0" height="548.7" fill="#e3e3e3"/>
<rect x="1535.0" y="826.1" width="5.0" height="672.9" fill="#e3e3e3"/>
<rect x="1540.0" y="862.2" width="4.0" height="636.8" fill="#e3e3e3"/>
<rect x="1544.0" y="821.0" width="4.0" height="678.0" fill="#e3e3e3"/>
<rect x="1548.0" y="910.0" width="5.0" height="589.0" fill="#e3e3e3"/>
<rect x="1553.0" y="931.8" width="17.0" height="567.2" fill="#e3e3e3"/>
<rect x="1570.0" y="990.3" width="5.0" height="508.7" fill="#e3e3e3"/>
<rect x="1575.0" y="834.5" width="5.0" height="664.5" fill="#e3e3e3"/>
<rect x="1580.0" y="1000.4" width="4.0" height="498.6" fill="#e3e3e3"/>
<rect x="1584.0" y="994.5" width="9.0" height="504.5" fill="#e3e3e3"/>
<rect x="1593.0" y="963.4" width="4.0" height="535.6" fill="#e3e3e3"/>
<rect x="1597.0" y="918.4" width="9.0" height="580.6" fill="#e3e3e3"/>
<rect x="1606.0" y="963.4" width="8.0" height="535.6" fill="#e3e3e3"/>
<rect x="1614.0" y="1240.1" width="5.0" height="258.9" fill="#e3e3e3"/>
<rect x="1619.0" y="866.4" width="5.0" height="632.6" fill="#e3e3e3"/>
<rect x="1624.0" y="1220.0" width="4.0" height="279.0" fill="#e3e3e3"/>
<rect x="1628.0" y="1288.8" width="5.0" height="210.2" fill="#e3e3e3"/>
<rect x="1633.0" y="955.4" width="4.0" height="543.6" fill="#e3e3e3"/>
<rect x="1637.0" y="1256.9" width="5.0" height="242.1" fill="#e3e3e3"/>
<rect x="1642.0" y="965.4" width="9.0" height="533.6" fill="#e3e3e3"/>
<rect x="1651.0" y="1008.8" width="4.0" height="490.2" fill="#e3e3e3"/>
<rect x="1655.0" y="950.0" width="9.0" height="549.0" fill="#e3e3e3"/>
<rect x="1664.0" y="1087.7" width="5.0" height="411.3" fill="#e3e3e3"/>
<rect x="1669.0" y="928.5" width="4.0" height="570.5" fill="#e3e3e3"/>
<rect x="1673.0" y="1000.4" width="17.0" height="498.6" fill="#e3e3e3"/>
<rect x="1690.0" y="1205.2" width="5.0" height="293.8" fill="#e3e3e3"/>
<rect x="1695.0" y="1159.9" width="5.0" height="339.1" fill="#e3e3e3"/>
<rect x="1700.0" y="1205.2" width="4.0" height="293.8" fill="#e3e3e3"/>
<rect x="1704.0" y="1297.2" width="4.0" height="201.8" fill="#e3e3e3"/>
<rect x="1708.0" y="1017.2" width="5.0" height="481.8" fill="#e3e3e3"/>
<rect x="1713.0" y="963.4" width="4.0" height="535.6" fill="#e3e3e3"/>
<rect x="1717.0" y="1163.2" width="5.0" height="335.8" fill="#e3e3e3"/>
<rect x="1722.0" y="1176.7" width="4.0" height="322.3" fill="#e3e3e3"/>
<rect x="1726.0" y="1173.3" width="9.0" height="325.7" fill="#e3e3e3"/>
<rect x="1735.0" y="1361.0" width="5.0" height="138.0" fill="#e3e3e3"/>
<rect x="1740.0" y="1110.3" width="13.0" height="388.7" fill="#e3e3e3"/>
<rect x="1753.0" y="1168.3" width="5.0" height="330.7" fill="#e3e3e3"/>
<rect x="1758.0" y="1114.5" width="4.0" height="384.5" fill="#e3e3e3"/>
<rect x="1762.0" y="998.7" width="4.0" height="500.3" fill="#e3e3e3"/>
<rect x="1766.0" y="1293.9" width="10.0" height="205.1" fill="#e3e3e3"/>
<rect x="1776.0" y="955.0" width="8.0" height="544.0" fill="#e3e3e3"/>
<rect x="1784.0" y="950.0" width="4.0" height="549.0" fill="#e3e3e3"/>
<rect x="1788.0" y="910.0" width="9.0" height="589.0" fill="#e3e3e3"/>
<rect x="1797.0" y="896.6" width="9.0" height="602.4" fill="#e3e3e3"/>
<rect x="1806.0" y="1222.0" width="5.0" height="277.0" fill="#e3e3e3"/>
<rect x="1811.0" y="1262.0" width="4.0" height="237.0" fill="#e3e3e3"/>
<rect x="1815.0" y="1060.8" width="4.0" height="438.2" fill="#e3e3e3"/>
<rect x="1819.0" y="892.4" width="5.0" height="606.6" fill="#e3e3e3"/>
<rect x="1824.0" y="1017.2" width="18.0" height="481.8" fill="#e3e3e3"/>
<rect x="1842.0" y="950.0" width="4.0" height="549.0" fill="#e3e3e3"/>
<rect x="1846.0" y="928.5" width="5.0" height="570.5" fill="#e3e3e3"/>
<rect x="1851.0" y="963.4" width="4.0" height="535.6" fill="#e3e3e3"/>
<rect x="1860.0" y="1440.8" width="4.0" height="58.2" fill="#e3e3e3"/>
<rect x="1864.0" y="1399.7" width="5.0" height="99.3" fill="#e3e3e3"/>
<rect x="314.0" y="1058.1" width="4.0" height="440.9" fill="#d4d4d4"/>
<rect x="318.0" y="1293.9" width="5.0" height="205.1" fill="#d4d4d4"/>
<rect x="323.0" y="1290.5" width="5.0" height="208.5" fill="#d4d4d4"/>
<rect x="328.0" y="1119.6" width="4.0" height="379.4" fill="#d4d4d4"/>
<rect x="332.0" y="1057.5" width="4.0" height="441.5" fill="#d4d4d4"/>
<rect x="336.0" y="1138.0" width="4.0" height="361.0" fill="#d4d4d4"/>
<rect x="340.0" y="1351.0" width="10.0" height="148.0" fill="#d4d4d4"/>
<rect x="350.0" y="1278.8" width="9.0" height="220.2" fill="#d4d4d4"/>
<rect x="359.0" y="1168.3" width="4.0" height="330.7" fill="#d4d4d4"/>
<rect x="363.0" y="1141.4" width="5.0" height="357.6" fill="#d4d4d4"/>
<rect x="368.0" y="1275.4" width="4.0" height="223.6" fill="#d4d4d4"/>
<rect x="372.0" y="1389.6" width="9.0" height="109.4" fill="#d4d4d4"/>
<rect x="381.0" y="998.7" width="9.0" height="500.3" fill="#d4d4d4"/>
<rect x="390.0" y="950.0" width="4.0" height="549.0" fill="#d4d4d4"/>
<rect x="403.0" y="1173.3" width="9.0" height="325.7" fill="#d4d4d4"/>
<rect x="417.0" y="1119.6" width="4.0" height="379.4" fill="#d4d4d4"/>
<rect x="421.0" y="1069.2" width="9.0" height="429.8" fill="#d4d4d4"/>
<rect x="430.0" y="1047.4" width="9.0" height="451.6" fill="#d4d4d4"/>
<rect x="439.0" y="1039.0" width="9.0" height="460.0" fill="#d4d4d4"/>
<rect x="448.0" y="1310.7" width="4.0" height="188.3" fill="#d4d4d4"/>
<rect x="452.0" y="1236.8" width="5.0" height="262.2" fill="#d4d4d4"/>
<rect x="457.0" y="1300.6" width="4.0" height="198.4" fill="#d4d4d4"/>
<rect x="461.0" y="1240.1" width="4.0" height="258.9" fill="#d4d4d4"/>
<rect x="465.0" y="1000.4" width="23.0" height="498.6" fill="#d4d4d4"/>
<rect x="488.0" y="955.4" width="8.0" height="543.6" fill="#d4d4d4"/>
<rect x="501.0" y="971.8" width="9.0" height="527.2" fill="#d4d4d4"/>
<rect x="510.0" y="898.3" width="9.0" height="600.7" fill="#d4d4d4"/>
<rect x="519.0" y="1097.8" width="5.0" height="401.2" fill="#d4d4d4"/>
<rect x="524.0" y="1060.8" width="9.0" height="438.2" fill="#d4d4d4"/>
<rect x="533.0" y="928.5" width="9.0" height="570.5" fill="#d4d4d4"/>
<rect x="546.0" y="950.0" width="26.0" height="549.0" fill="#d4d4d4"/>
<rect x="572.0" y="1033.9" width="5.0" height="465.1" fill="#d4d4d4"/>
<rect x="577.0" y="950.0" width="4.0" height="549.0" fill="#d4d4d4"/>
<rect x="581.0" y="1065.8" width="4.0" height="433.2" fill="#d4d4d4"/>
<rect x="585.0" y="1067.5" width="5.0" height="431.5" fill="#d4d4d4"/>
<rect x="590.0" y="1154.8" width="6.0" height="344.2" fill="#d4d4d4"/>
<rect x="596.0" y="971.8" width="12.0" height="527.2" fill="#d4d4d4"/>
<rect x="608.0" y="950.3" width="4.0" height="548.7" fill="#d4d4d4"/>
<rect x="612.0" y="1000.4" width="4.0" height="498.6" fill="#d4d4d4"/>
<rect x="616.0" y="1270.4" width="6.0" height="228.6" fill="#d4d4d4"/>
<rect x="622.0" y="1064.2" width="4.0" height="434.8" fill="#d4d4d4"/>
<rect x="626.0" y="955.4" width="4.0" height="543.6" fill="#d4d4d4"/>
<rect x="630.0" y="1059.1" width="9.0" height="439.9" fill="#d4d4d4"/>
<rect x="639.0" y="950.0" width="9.0" height="549.0" fill="#d4d4d4"/>
<rect x="648.0" y="1059.1" width="5.0" height="439.9" fill="#d4d4d4"/>
<rect x="653.0" y="834.5" width="13.0" height="664.5" fill="#d4d4d4"/>
<rect x="666.0" y="898.3" width="4.0" height="600.7" fill="#d4d4d4"/>
<rect x="670.0" y="985.3" width="10.0" height="513.7" fill="#d4d4d4"/>
<rect x="680.0" y="955.4" width="4.0" height="543.6" fill="#d4d4d4"/>
<rect x="684.0" y="745.5" width="5.0" height="753.5" fill="#d4d4d4"/>
<rect x="689.0" y="1081.0" width="8.0" height="418.0" fill="#d4d4d4"/>
<rect x="697.0" y="948.6" width="5.0" height="550.4" fill="#d4d4d4"/>
<rect x="702.0" y="847.9" width="4.0" height="651.1" fill="#d4d4d4"/>
<rect x="706.0" y="1041.5" width="5.0" height="457.5" fill="#d4d4d4"/>
<rect x="711.0" y="898.3" width="4.0" height="600.7" fill="#d4d4d4"/>
<rect x="715.0" y="816.8" width="5.0" height="682.2" fill="#d4d4d4"/>
<rect x="720.0" y="812.6" width="4.0" height="686.4" fill="#d4d4d4"/>
<rect x="724.0" y="799.2" width="5.0" height="699.8" fill="#d4d4d4"/>
<rect x="729.0" y="950.0" width="4.0" height="549.0" fill="#d4d4d4"/>
<rect x="733.0" y="1008.8" width="5.0" height="490.2" fill="#d4d4d4"/>
<rect x="738.0" y="928.5" width="4.0" height="570.5" fill="#d4d4d4"/>
<rect x="742.0" y="965.4" width="4.0" height="533.6" fill="#d4d4d4"/>
<rect x="746.0" y="936.9" width="14.0" height="562.1" fill="#d4d4d4"/>
<rect x="760.0" y="950.0" width="4.0" height="549.0" fill="#d4d4d4"/>
<rect x="764.0" y="1421.5" width="5.0" height="77.5" fill="#d4d4d4"/>
<rect x="769.0" y="1227.0" width="4.0" height="272.0" fill="#d4d4d4"/>
<rect x="773.0" y="1218.6" width="5.0" height="280.4" fill="#d4d4d4"/>
<rect x="778.0" y="1008.8" width="4.0" height="490.2" fill="#d4d4d4"/>
<rect x="782.0" y="881.5" width="4.0" height="617.5" fill="#d4d4d4"/>
<rect x="786.0" y="915.1" width="5.0" height="583.9" fill="#d4d4d4"/>
<rect x="791.0" y="1453.4" width="4.0" height="45.6" fill="#d4d4d4"/>
<rect x="795.0" y="892.4" width="5.0" height="606.6" fill="#d4d4d4"/>
<rect x="800.0" y="866.4" width="4.0" height="632.6" fill="#d4d4d4"/>
<rect x="804.0" y="807.6" width="5.0" height="691.4" fill="#d4d4d4"/>
<rect x="809.0" y="803.4" width="4.0" height="695.6" fill="#d4d4d4"/>
<rect x="813.0" y="914.2" width="5.0" height="584.8" fill="#d4d4d4"/>
<rect x="818.0" y="991.1" width="9.0" height="507.9" fill="#d4d4d4"/>
<rect x="827.0" y="941.1" width="4.0" height="557.9" fill="#d4d4d4"/>
<rect x="836.0" y="990.3" width="4.0" height="508.7" fill="#d4d4d4"/>
<rect x="840.0" y="838.7" width="5.0" height="660.3" fill="#d4d4d4"/>
<rect x="845.0" y="821.0" width="8.0" height="678.0" fill="#d4d4d4"/>
<rect x="853.0" y="831.1" width="5.0" height="667.9" fill="#d4d4d4"/>
<rect x="858.0" y="966.8" width="4.0" height="532.2" fill="#d4d4d4"/>
<rect x="862.0" y="1114.5" width="4.0" height="384.5" fill="#d4d4d4"/>
<rect x="866.0" y="1225.4" width="5.0" height="273.6" fill="#d4d4d4"/>
<rect x="871.0" y="860.5" width="9.0" height="638.5" fill="#d4d4d4"/>
<rect x="880.0" y="753.9" width="18.0" height="745.1" fill="#d4d4d4"/>
<rect x="898.0" y="995.3" width="4.0" height="503.7" fill="#d4d4d4"/>
<rect x="902.0" y="948.6" width="5.0" height="550.4" fill="#d4d4d4"/>
<rect x="907.0" y="957.0" width="4.0" height="542.0" fill="#d4d4d4"/>
<rect x="911.0" y="914.2" width="5.0" height="584.8" fill="#d4d4d4"/>
<rect x="916.0" y="808.4" width="4.0" height="690.6" fill="#d4d4d4"/>
<rect x="920.0" y="856.3" width="9.0" height="642.7" fill="#d4d4d4"/>
<rect x="929.0" y="914.2" width="4.0" height="584.8" fill="#d4d4d4"/>
<rect x="933.0" y="1089.4" width="4.0" height="409.6" fill="#d4d4d4"/>
<rect x="937.0" y="831.1" width="3.0" height="667.9" fill="#d4d4d4"/>
<rect x="940.0" y="753.9" width="3.0" height="745.1" fill="#d4d4d4"/>
<rect x="943.0" y="784.1" width="4.0" height="714.9" fill="#d4d4d4"/>
<rect x="947.0" y="789.1" width="4.0" height="709.9" fill="#d4d4d4"/>
<rect x="951.0" y="995.3" width="5.0" height="503.7" fill="#d4d4d4"/>
<rect x="956.0" y="1067.5" width="4.0" height="431.5" fill="#d4d4d4"/>
<rect x="960.0" y="753.9" width="5.0" height="745.1" fill="#d4d4d4"/>
<rect x="965.0" y="913.4" width="4.0" height="585.6" fill="#d4d4d4"/>
<rect x="974.0" y="834.5" width="4.0" height="664.5" fill="#d4d4d4"/>
<rect x="978.0" y="767.3" width="9.0" height="731.7" fill="#d4d4d4"/>
<rect x="987.0" y="789.1" width="4.0" height="709.9" fill="#d4d4d4"/>
<rect x="991.0" y="821.0" width="4.0" height="678.0" fill="#d4d4d4"/>
<rect x="995.0" y="1122.9" width="5.0" height="376.1" fill="#d4d4d4"/>
<rect x="1000.0" y="1243.5" width="5.0" height="255.5" fill="#d4d4d4"/>
<rect x="1005.0" y="1101.1" width="4.0" height="397.9" fill="#d4d4d4"/>
<rect x="1009.0" y="1151.5" width="5.0" height="347.5" fill="#d4d4d4"/>
<rect x="1014.0" y="1270.4" width="4.0" height="228.6" fill="#d4d4d4"/>
<rect x="1018.0" y="776.5" width="4.0" height="722.5" fill="#d4d4d4"/>
<rect x="1022.0" y="812.6" width="5.0" height="686.4" fill="#d4d4d4"/>
<rect x="1032.0" y="1042.3" width="4.0" height="456.7" fill="#d4d4d4"/>
<rect x="1036.0" y="856.3" width="4.0" height="642.7" fill="#d4d4d4"/>
<rect x="1040.0" y="918.4" width="5.0" height="580.6" fill="#d4d4d4"/>
<rect x="1045.0" y="923.5" width="4.0" height="575.5" fill="#d4d4d4"/>
<rect x="1049.0" y="794.2" width="9.0" height="704.8" fill="#d4d4d4"/>
<rect x="1058.0" y="856.3" width="9.0" height="642.7" fill="#d4d4d4"/>
<rect x="1067.0" y="780.7" width="4.0" height="718.3" fill="#d4d4d4"/>
<rect x="1071.0" y="928.5" width="5.0" height="570.5" fill="#d4d4d4"/>
<rect x="1076.0" y="998.7" width="4.0" height="500.3" fill="#d4d4d4"/>
<rect x="1080.0" y="834.5" width="5.0" height="664.5" fill="#d4d4d4"/>
<rect x="1085.0" y="816.8" width="9.0" height="682.2" fill="#d4d4d4"/>
<rect x="1094.0" y="847.9" width="4.0" height="651.1" fill="#d4d4d4"/>
<rect x="1103.0" y="747.2" width="8.0" height="751.8" fill="#d4d4d4"/>
<rect x="1116.0" y="732.0" width="4.0" height="767.0" fill="#d4d4d4"/>
<rect x="1120.0" y="809.3" width="9.0" height="689.7" fill="#d4d4d4"/>
<rect x="1129.0" y="866.4" width="9.0" height="632.6" fill="#d4d4d4"/>
<rect x="1138.0" y="803.4" width="5.0" height="695.6" fill="#d4d4d4"/>
<rect x="1143.0" y="784.9" width="4.0" height="714.1" fill="#d4d4d4"/>
<rect x="1147.0" y="993.7" width="5.0" height="505.3" fill="#d4d4d4"/>
<rect x="1152.0" y="758.9" width="5.0" height="740.1" fill="#d4d4d4"/>
<rect x="1157.0" y="767.3" width="8.0" height="731.7" fill="#d4d4d4"/>
<rect x="1165.0" y="966.8" width="4.0" height="532.2" fill="#d4d4d4"/>
<rect x="1169.0" y="727.9" width="5.0" height="771.1" fill="#d4d4d4"/>
<rect x="1174.0" y="735.4" width="22.0" height="763.6" fill="#d4d4d4"/>
<rect x="1196.0" y="1438.3" width="5.0" height="60.7" fill="#d4d4d4"/>
<rect x="1201.0" y="847.9" width="4.0" height="651.1" fill="#d4d4d4"/>
<rect x="1205.0" y="753.9" width="4.0" height="745.1" fill="#d4d4d4"/>
<rect x="1209.0" y="1265.3" width="5.0" height="233.7" fill="#d4d4d4"/>
<rect x="1214.0" y="780.7" width="13.0" height="718.3" fill="#d4d4d4"/>
<rect x="1227.0" y="825.2" width="9.0" height="673.8" fill="#d4d4d4"/>
<rect x="1236.0" y="809.3" width="5.0" height="689.7" fill="#d4d4d4"/>
<rect x="1241.0" y="821.0" width="4.0" height="678.0" fill="#d4d4d4"/>
<rect x="1245.0" y="838.7" width="9.0" height="660.3" fill="#d4d4d4"/>
<rect x="1254.0" y="913.4" width="9.0" height="585.6" fill="#d4d4d4"/>
<rect x="1263.0" y="803.4" width="9.0" height="695.6" fill="#d4d4d4"/>
<rect x="1272.0" y="1012.1" width="4.0" height="486.9" fill="#d4d4d4"/>
<rect x="1276.0" y="955.4" width="5.0" height="543.6" fill="#d4d4d4"/>
<rect x="1281.0" y="1017.2" width="4.0" height="481.8" fill="#d4d4d4"/>
<rect x="1285.0" y="772.3" width="9.0" height="726.7" fill="#d4d4d4"/>
<rect x="1294.0" y="730.4" width="5.0" height="768.6" fill="#d4d4d4"/>
<rect x="1299.0" y="905.0" width="4.0" height="594.0" fill="#d4d4d4"/>
<rect x="1303.0" y="972.7" width="9.0" height="526.3" fill="#d4d4d4"/>
<rect x="1312.0" y="861.3" width="5.0" height="637.7" fill="#d4d4d4"/>
<rect x="1317.0" y="772.3" width="4.0" height="726.7" fill="#d4d4d4"/>
<rect x="1321.0" y="780.7" width="9.0" height="718.3" fill="#d4d4d4"/>
<rect x="1330.0" y="918.4" width="5.0" height="580.6" fill="#d4d4d4"/>
<rect x="1335.0" y="901.6" width="8.0" height="597.4" fill="#d4d4d4"/>
<rect x="1343.0" y="763.1" width="5.0" height="735.9" fill="#d4d4d4"/>
<rect x="1348.0" y="816.8" width="4.0" height="682.2" fill="#d4d4d4"/>
<rect x="1352.0" y="990.3" width="5.0" height="508.7" fill="#d4d4d4"/>
<rect x="1357.0" y="1008.8" width="4.0" height="490.2" fill="#d4d4d4"/>
<rect x="1361.0" y="803.4" width="4.0" height="695.6" fill="#d4d4d4"/>
<rect x="1365.0" y="923.5" width="5.0" height="575.5" fill="#d4d4d4"/>
<rect x="1370.0" y="990.3" width="9.0" height="508.7" fill="#d4d4d4"/>
<rect x="1379.0" y="784.9" width="4.0" height="714.1" fill="#d4d4d4"/>
<rect x="1383.0" y="812.6" width="9.0" height="686.4" fill="#d4d4d4"/>
<rect x="1392.0" y="838.7" width="9.0" height="660.3" fill="#d4d4d4"/>
<rect x="1401.0" y="812.6" width="9.0" height="686.4" fill="#d4d4d4"/>
<rect x="1410.0" y="1203.5" width="4.0" height="295.5" fill="#d4d4d4"/>
<rect x="1414.0" y="1421.5" width="5.0" height="77.5" fill="#d4d4d4"/>
<rect x="1419.0" y="737.1" width="4.0" height="761.9" fill="#d4d4d4"/>
<rect x="1423.0" y="732.0" width="5.0" height="767.0" fill="#d4d4d4"/>
<rect x="1428.0" y="1288.8" width="4.0" height="210.2" fill="#d4d4d4"/>
<rect x="1432.0" y="839.5" width="4.0" height="659.5" fill="#d4d4d4"/>
<rect x="1436.0" y="1081.0" width="10.0" height="418.0" fill="#d4d4d4"/>
<rect x="1446.0" y="1033.9" width="4.0" height="465.1" fill="#d4d4d4"/>
<rect x="1450.0" y="874.8" width="4.0" height="624.2" fill="#d4d4d4"/>
<rect x="1454.0" y="1020.5" width="9.0" height="478.5" fill="#d4d4d4"/>
<rect x="1463.0" y="870.6" width="5.0" height="628.4" fill="#d4d4d4"/>
<rect x="1468.0" y="1337.5" width="4.0" height="161.5" fill="#d4d4d4"/>
<rect x="1472.0" y="866.4" width="14.0" height="632.6" fill="#d4d4d4"/>
<rect x="1486.0" y="1262.0" width="4.0" height="237.0" fill="#d4d4d4"/>
<rect x="1490.0" y="978.5" width="5.0" height="520.5" fill="#d4d4d4"/>
<rect x="1495.0" y="914.2" width="4.0" height="584.8" fill="#d4d4d4"/>
<rect x="1499.0" y="1057.5" width="4.0" height="441.5" fill="#d4d4d4"/>
<rect x="1503.0" y="1039.0" width="5.0" height="460.0" fill="#d4d4d4"/>
<rect x="1508.0" y="1141.4" width="5.0" height="357.6" fill="#d4d4d4"/>
<rect x="1513.0" y="1045.7" width="9.0" height="453.3" fill="#d4d4d4"/>
<rect x="1522.0" y="983.6" width="4.0" height="515.4" fill="#d4d4d4"/>
<rect x="1526.0" y="1117.9" width="9.0" height="381.1" fill="#d4d4d4"/>
<rect x="1535.0" y="955.4" width="5.0" height="543.6" fill="#d4d4d4"/>
<rect x="1540.0" y="862.2" width="8.0" height="636.8" fill="#d4d4d4"/>
<rect x="1548.0" y="910.0" width="5.0" height="589.0" fill="#d4d4d4"/>
<rect x="1553.0" y="931.8" width="17.0" height="567.2" fill="#d4d4d4"/>
<rect x="1570.0" y="990.3" width="5.0" height="508.7" fill="#d4d4d4"/>
<rect x="1575.0" y="1438.3" width="9.0" height="60.7" fill="#d4d4d4"/>
<rect x="1584.0" y="994.5" width="9.0" height="504.5" fill="#d4d4d4"/>
<rect x="1593.0" y="1414.8" width="4.0" height="84.2" fill="#d4d4d4"/>
<rect x="1597.0" y="963.4" width="4.0" height="535.6" fill="#d4d4d4"/>
<rect x="1601.0" y="950.3" width="5.0" height="548.7" fill="#d4d4d4"/>
<rect x="1606.0" y="963.4" width="4.0" height="535.6" fill="#d4d4d4"/>
<rect x="1610.0" y="1317.4" width="4.0" height="181.6" fill="#d4d4d4"/>
<rect x="1614.0" y="1240.1" width="10.0" height="258.9" fill="#d4d4d4"/>
<rect x="1628.0" y="1288.8" width="5.0" height="210.2" fill="#d4d4d4"/>
<rect x="1633.0" y="1253.6" width="4.0" height="245.4" fill="#d4d4d4"/>
<rect x="1637.0" y="1256.9" width="5.0" height="242.1" fill="#d4d4d4"/>
<rect x="1642.0" y="965.4" width="9.0" height="533.6" fill="#d4d4d4"/>
<rect x="1651.0" y="1008.8" width="4.0" height="490.2" fill="#d4d4d4"/>
<rect x="1655.0" y="950.0" width="9.0" height="549.0" fill="#d4d4d4"/>
<rect x="1673.0" y="1000.4" width="17.0" height="498.6" fill="#d4d4d4"/>
<rect x="1690.0" y="1227.0" width="5.0" height="272.0" fill="#d4d4d4"/>
<rect x="1695.0" y="1205.2" width="9.0" height="293.8" fill="#d4d4d4"/>
<rect x="1704.0" y="1297.2" width="4.0" height="201.8" fill="#d4d4d4"/>
<rect x="1708.0" y="1176.7" width="5.0" height="322.3" fill="#d4d4d4"/>
<rect x="1713.0" y="1163.2" width="9.0" height="335.8" fill="#d4d4d4"/>
<rect x="1722.0" y="1201.8" width="4.0" height="297.2" fill="#d4d4d4"/>
<rect x="1726.0" y="1173.3" width="9.0" height="325.7" fill="#d4d4d4"/>
<rect x="1744.0" y="1110.3" width="9.0" height="388.7" fill="#d4d4d4"/>
<rect x="1753.0" y="1382.0" width="5.0" height="117.0" fill="#d4d4d4"/>
<rect x="1758.0" y="1168.3" width="4.0" height="330.7" fill="#d4d4d4"/>
<rect x="1762.0" y="1114.5" width="4.0" height="384.5" fill="#d4d4d4"/>
<rect x="1776.0" y="955.0" width="8.0" height="544.0" fill="#d4d4d4"/>
<rect x="1784.0" y="1372.8" width="4.0" height="126.2" fill="#d4d4d4"/>
<rect x="1788.0" y="910.0" width="5.0" height="589.0" fill="#d4d4d4"/>
<rect x="1793.0" y="998.7" width="9.0" height="500.3" fill="#d4d4d4"/>
<rect x="1802.0" y="1222.0" width="4.0" height="277.0" fill="#d4d4d4"/>
<rect x="1806.0" y="1262.0" width="5.0" height="237.0" fill="#d4d4d4"/>
<rect x="1815.0" y="1060.8" width="9.0" height="438.2" fill="#d4d4d4"/>
<rect x="1824.0" y="1438.3" width="4.0" height="60.7" fill="#d4d4d4"/>
<rect x="1828.0" y="1017.2" width="14.0" height="481.8" fill="#d4d4d4"/>
<rect x="1842.0" y="1101.1" width="4.0" height="397.9" fill="#d4d4d4"/>
<rect x="1846.0" y="1262.0" width="9.0" height="237.0" fill="#d4d4d4"/>
<rect x="1860.0" y="1440.8" width="9.0" height="58.2" fill="#d4d4d4"/>
</g>
<g id="pw">
<rect x="314.0" y="457.5" width="4.6" height="1041.5" fill="#101010"/>
<rect x="322.0" y="1440.0" width="5.5" height="59.0" fill="#888888"/>
<rect x="328.6" y="1440.0" width="5.4" height="59.0" fill="#444444"/>
<rect x="334.0" y="1440.0" width="7.0" height="59.0" fill="#888888"/>
<rect x="345.5" y="1440.0" width="4.5" height="59.0" fill="#999999"/>
<rect x="350.0" y="1440.0" width="4.0" height="59.0" fill="#000000"/>
<rect x="354.0" y="1440.0" width="4.5" height="59.0" fill="#555555"/>
<rect x="359.3" y="1173.0" width="4.2" height="326.0" fill="#333333"/>
<rect x="363.5" y="1173.0" width="4.0" height="326.0" fill="#999999"/>
<rect x="362.5" y="1440.0" width="9.5" height="59.0" fill="#000000"/>
<rect x="384.7" y="996.0" width="5.3" height="503.0" fill="#222222"/>
<rect x="384.7" y="1252.0" width="8.3" height="247.0" fill="#000000"/>
<rect x="403.4" y="293.4" width="4.4" height="1205.6" fill="#888888"/>
<rect x="407.8" y="293.4" width="4.4" height="1205.6" fill="#666666"/>
<rect x="420.7" y="1262.0" width="4.9" height="237.0" fill="#444444"/>
<rect x="425.6" y="1262.0" width="4.4" height="237.0" fill="#888888"/>
<rect x="425.6" y="1382.0" width="4.4" height="117.0" fill="#000000"/>
<rect x="420.7" y="1440.0" width="9.3" height="59.0" fill="#000000"/>
<rect x="416.7" y="1440.0" width="4.0" height="59.0" fill="#777777"/>
<rect x="448.0" y="1440.0" width="4.0" height="59.0" fill="#000000"/>
<rect x="466.0" y="457.5" width="4.5" height="1041.5" fill="#aaaaaa"/>
<rect x="461.0" y="1440.0" width="9.2" height="59.0" fill="#000000"/>
<rect x="470.5" y="457.5" width="8.5" height="1041.5" fill="#000000"/>
<rect x="479.0" y="457.5" width="4.0" height="1041.5" fill="#888888"/>
<rect x="479.0" y="996.0" width="9.5" height="503.0" fill="#777777"/>
<rect x="488.5" y="995.0" width="4.2" height="504.0" fill="#000000"/>
<rect x="501.0" y="995.0" width="5.5" height="504.0" fill="#444444"/>
<rect x="515.0" y="1440.0" width="4.0" height="59.0" fill="#222222"/>
<rect x="524.0" y="293.4" width="4.7" height="1205.6" fill="#cccccc"/>
<rect x="528.7" y="293.4" width="3.8" height="1205.6" fill="#333333"/>
<rect x="524.5" y="1061.5" width="4.2" height="437.5" fill="#000000"/>
<rect x="532.5" y="1440.0" width="4.5" height="59.0" fill="#777777"/>
<rect x="537.0" y="1440.0" width="4.4" height="59.0" fill="#aaaaaa"/>
<rect x="546.7" y="457.5" width="12.7" height="1041.5" fill="#808080"/>
<rect x="550.0" y="1044.0" width="9.4" height="455.0" fill="#6c6c6c"/>
<rect x="541.4" y="1440.0" width="8.8" height="59.0" fill="#000000"/>
<rect x="559.4" y="457.5" width="4.2" height="1041.5" fill="#000000"/>
<rect x="563.6" y="457.5" width="3.4" height="1041.5" fill="#aaaaaa"/>
<rect x="563.6" y="954.6" width="9.4" height="544.4" fill="#000000"/>
<rect x="573.0" y="954.6" width="4.4" height="544.4" fill="#aaaaaa"/>
<rect x="577.4" y="954.6" width="4.2" height="544.4" fill="#444444"/>
<rect x="581.6" y="1440.0" width="4.4" height="59.0" fill="#000000"/>
<rect x="585.4" y="1262.0" width="4.9" height="237.0" fill="#333333"/>
<rect x="590.3" y="1262.0" width="5.1" height="237.0" fill="#bbbbbb"/>
<rect x="585.4" y="1382.0" width="10.0" height="117.0" fill="#000000"/>
<rect x="599.6" y="995.0" width="8.4" height="504.0" fill="#000000"/>
<rect x="608.0" y="995.0" width="4.3" height="504.0" fill="#444444"/>
<rect x="612.6" y="1260.0" width="8.4" height="239.0" fill="#000000"/>
<rect x="616.6" y="1440.0" width="5.4" height="59.0" fill="#000000"/>
<rect x="636.7" y="1440.0" width="6.3" height="59.0" fill="#000000"/>
<rect x="640.0" y="643.0" width="4.0" height="856.0" fill="#444444"/>
<rect x="644.0" y="643.0" width="4.0" height="856.0" fill="#bbbbbb"/>
<rect x="653.0" y="996.0" width="4.3" height="503.0" fill="#c0c0c0"/>
<rect x="657.3" y="996.0" width="4.5" height="503.0" fill="#101010"/>
<rect x="666.2" y="996.0" width="4.2" height="503.0" fill="#999999"/>
<rect x="670.4" y="996.0" width="4.6" height="503.0" fill="#222222"/>
<rect x="679.6" y="1440.0" width="4.2" height="59.0" fill="#999999"/>
<rect x="683.8" y="1440.0" width="18.2" height="59.0" fill="#000000"/>
<rect x="688.5" y="1262.0" width="8.7" height="237.0" fill="#666666"/>
<rect x="710.7" y="994.0" width="4.7" height="505.0" fill="#2a2a2a"/>
<rect x="715.4" y="994.0" width="4.6" height="505.0" fill="#999999"/>
<rect x="715.4" y="1440.0" width="4.6" height="59.0" fill="#000000"/>
<rect x="720.0" y="1440.0" width="8.8" height="59.0" fill="#bbbbbb"/>
<rect x="728.8" y="1440.0" width="4.0" height="59.0" fill="#222222"/>
<rect x="746.6" y="954.6" width="4.4" height="544.4" fill="#888888"/>
<rect x="751.0" y="457.5" width="4.5" height="1041.5" fill="#888888"/>
<rect x="755.5" y="457.5" width="4.9" height="1041.5" fill="#555555"/>
<rect x="751.0" y="954.6" width="9.4" height="544.4" fill="#000000"/>
<rect x="759.7" y="994.0" width="4.3" height="505.0" fill="#606060"/>
<rect x="795.5" y="1440.0" width="4.5" height="59.0" fill="#222222"/>
<rect x="818.6" y="995.0" width="4.2" height="504.0" fill="#888888"/>
<rect x="822.8" y="995.0" width="4.2" height="504.0" fill="#000000"/>
<rect x="827.0" y="995.0" width="4.0" height="504.0" fill="#444444"/>
<rect x="835.7" y="996.0" width="4.5" height="503.0" fill="#444444"/>
<rect x="840.2" y="996.0" width="4.4" height="503.0" fill="#777777"/>
<rect x="844.6" y="1440.0" width="4.6" height="59.0" fill="#555555"/>
<rect x="849.2" y="1440.0" width="4.2" height="59.0" fill="#888888"/>
<rect x="853.4" y="1440.0" width="8.4" height="59.0" fill="#111111"/>
<rect x="861.8" y="1440.0" width="4.7" height="59.0" fill="#999999"/>
<rect x="866.5" y="1440.0" width="13.7" height="59.0" fill="#000000"/>
<rect x="880.0" y="293.4" width="4.0" height="1205.6" fill="#aaaaaa"/>
<rect x="884.0" y="293.4" width="5.0" height="1205.6" fill="#444444"/>
<rect x="889.0" y="643.0" width="4.0" height="856.0" fill="#999999"/>
<rect x="893.0" y="643.0" width="5.0" height="856.0" fill="#555555"/>
<rect x="893.3" y="995.0" width="4.6" height="504.0" fill="#000000"/>
<rect x="897.9" y="995.0" width="4.1" height="504.0" fill="#555555"/>
<rect x="897.9" y="1440.0" width="17.6" height="59.0" fill="#777777"/>
<rect x="915.5" y="1440.0" width="9.2" height="59.0" fill="#000000"/>
<rect x="924.7" y="1440.0" width="4.3" height="59.0" fill="#aaaaaa"/>
<rect x="933.0" y="1440.0" width="9.5" height="59.0" fill="#000000"/>
<rect x="936.6" y="1262.0" width="1.6" height="237.0" fill="#bbbbbb"/>
<rect x="938.2" y="1262.0" width="4.4" height="237.0" fill="#000000"/>
<rect x="946.7" y="996.0" width="4.3" height="503.0" fill="#999999"/>
<rect x="951.0" y="996.0" width="5.0" height="503.0" fill="#3a3a3a"/>
<rect x="956.0" y="1061.5" width="4.0" height="437.5" fill="#888888"/>
<rect x="960.0" y="1061.5" width="4.8" height="437.5" fill="#3a3a3a"/>
<rect x="960.0" y="1440.0" width="18.3" height="59.0" fill="#000000"/>
<rect x="973.6" y="1061.5" width="4.7" height="437.5" fill="#555555"/>
<rect x="978.3" y="1061.5" width="4.5" height="437.5" fill="#888888"/>
<rect x="1018.0" y="1061.5" width="4.3" height="437.5" fill="#999999"/>
<rect x="1022.3" y="1061.5" width="4.7" height="437.5" fill="#333333"/>
<rect x="1031.5" y="1440.0" width="4.5" height="59.0" fill="#999999"/>
<rect x="1036.0" y="1440.0" width="9.0" height="59.0" fill="#000000"/>
<rect x="1045.0" y="1440.0" width="4.0" height="59.0" fill="#888888"/>
<rect x="1049.0" y="1440.0" width="4.8" height="59.0" fill="#666666"/>
<rect x="1053.8" y="1440.0" width="4.6" height="59.0" fill="#111111"/>
<rect x="1058.4" y="1440.0" width="4.2" height="59.0" fill="#bbbbbb"/>
<rect x="1071.8" y="996.0" width="4.2" height="503.0" fill="#bbbbbb"/>
<rect x="1076.0" y="996.0" width="4.2" height="503.0" fill="#181818"/>
<rect x="1076.0" y="1440.0" width="13.0" height="59.0" fill="#000000"/>
<rect x="1102.9" y="457.5" width="8.4" height="1041.5" fill="#808080"/>
<rect x="1102.9" y="747.0" width="8.4" height="752.0" fill="#666666"/>
<rect x="1107.0" y="1440.0" width="4.3" height="59.0" fill="#000000"/>
<rect x="1111.3" y="1440.0" width="4.7" height="59.0" fill="#555555"/>
<rect x="1134.0" y="1440.0" width="8.8" height="59.0" fill="#111111"/>
<rect x="1173.7" y="1440.0" width="8.9" height="59.0" fill="#666666"/>
<rect x="1186.8" y="643.0" width="5.0" height="856.0" fill="#484848"/>
<rect x="1191.8" y="643.0" width="4.2" height="856.0" fill="#999999"/>
<rect x="1191.8" y="1440.0" width="8.8" height="59.0" fill="#000000"/>
<rect x="1214.0" y="1440.0" width="9.0" height="59.0" fill="#111111"/>
<rect x="1223.0" y="1440.0" width="4.4" height="59.0" fill="#999999"/>
<rect x="1227.4" y="1440.0" width="4.4" height="59.0" fill="#555555"/>
<rect x="1231.8" y="1262.0" width="4.5" height="237.0" fill="#888888"/>
<rect x="1236.3" y="1262.0" width="4.2" height="237.0" fill="#000000"/>
<rect x="1240.5" y="1262.0" width="4.2" height="237.0" fill="#444444"/>
<rect x="1249.8" y="1061.5" width="8.4" height="437.5" fill="#666666"/>
<rect x="1272.0" y="1440.0" width="9.0" height="59.0" fill="#000000"/>
<rect x="1281.0" y="1475.0" width="4.2" height="24.0" fill="#000000"/>
<rect x="1285.2" y="457.5" width="4.7" height="1041.5" fill="#d8d8d8"/>
<rect x="1285.2" y="772.0" width="4.7" height="727.0" fill="#bbbbbb"/>
<rect x="1289.9" y="457.5" width="4.5" height="1041.5" fill="#222222"/>
<rect x="1285.2" y="1337.5" width="9.2" height="161.5" fill="#000000"/>
<rect x="1303.3" y="1440.0" width="4.5" height="59.0" fill="#888888"/>
<rect x="1307.8" y="1440.0" width="4.6" height="59.0" fill="#000000"/>
<rect x="1312.4" y="1440.0" width="8.9" height="59.0" fill="#777777"/>
<rect x="1321.3" y="1440.0" width="8.9" height="59.0" fill="#000000"/>
<rect x="1325.5" y="1061.5" width="4.2" height="437.5" fill="#555555"/>
<rect x="1329.7" y="1061.5" width="4.2" height="437.5" fill="#777777"/>
<rect x="1334.0" y="1470.0" width="5.0" height="29.0" fill="#444444"/>
<rect x="1339.0" y="1440.0" width="4.4" height="59.0" fill="#333333"/>
<rect x="1339.0" y="1470.0" width="4.4" height="29.0" fill="#000000"/>
<rect x="1343.4" y="1440.0" width="4.2" height="59.0" fill="#999999"/>
<rect x="1347.6" y="995.0" width="8.9" height="504.0" fill="#0c0c0c"/>
<rect x="1356.5" y="1470.0" width="4.2" height="29.0" fill="#000000"/>
<rect x="1360.7" y="1440.0" width="4.7" height="59.0" fill="#444444"/>
<rect x="1365.4" y="1440.0" width="4.6" height="59.0" fill="#bbbbbb"/>
<rect x="1370.0" y="1440.0" width="8.9" height="59.0" fill="#000000"/>
<rect x="1378.9" y="1440.0" width="4.5" height="59.0" fill="#444444"/>
<rect x="1388.0" y="1440.0" width="8.8" height="59.0" fill="#666666"/>
<rect x="1418.7" y="1440.0" width="4.5" height="59.0" fill="#222222"/>
<rect x="1423.2" y="1440.0" width="4.8" height="59.0" fill="#bbbbbb"/>
<rect x="1445.5" y="1440.0" width="4.5" height="59.0" fill="#777777"/>
<rect x="1450.0" y="1440.0" width="4.4" height="59.0" fill="#333333"/>
<rect x="1450.0" y="1475.0" width="9.0" height="24.0" fill="#000000"/>
<rect x="1499.3" y="1061.5" width="4.2" height="437.5" fill="#aaaaaa"/>
<rect x="1503.5" y="1061.5" width="4.7" height="437.5" fill="#262626"/>
<rect x="1503.5" y="1440.0" width="9.2" height="59.0" fill="#000000"/>
<rect x="1517.0" y="1440.0" width="9.0" height="59.0" fill="#666666"/>
<rect x="1530.3" y="1260.0" width="4.7" height="239.0" fill="#666666"/>
<rect x="1535.0" y="1260.0" width="4.5" height="239.0" fill="#000000"/>
<rect x="1539.5" y="1260.0" width="4.2" height="239.0" fill="#888888"/>
<rect x="1557.2" y="457.5" width="4.2" height="1041.5" fill="#222222"/>
<rect x="1561.4" y="457.5" width="8.9" height="1041.5" fill="#000000"/>
<rect x="1570.3" y="998.7" width="4.5" height="500.3" fill="#161616"/>
<rect x="1583.7" y="994.5" width="4.3" height="504.5" fill="#999999"/>
<rect x="1583.7" y="1124.0" width="4.3" height="375.0" fill="#777777"/>
<rect x="1588.0" y="994.5" width="4.6" height="504.5" fill="#555555"/>
<rect x="1588.0" y="1414.8" width="4.6" height="84.2" fill="#444444"/>
<rect x="1596.8" y="1440.0" width="9.2" height="59.0" fill="#666666"/>
<rect x="1615.3" y="1262.0" width="4.2" height="237.0" fill="#444444"/>
<rect x="1619.5" y="1262.0" width="4.5" height="237.0" fill="#000000"/>
<rect x="1624.0" y="1364.0" width="4.4" height="135.0" fill="#aaaaaa"/>
<rect x="1628.4" y="1440.0" width="8.6" height="59.0" fill="#111111"/>
<rect x="1637.0" y="1440.0" width="5.0" height="59.0" fill="#888888"/>
<rect x="1642.1" y="293.4" width="4.2" height="1205.6" fill="#bbbbbb"/>
<rect x="1642.1" y="994.5" width="4.2" height="504.5" fill="#999999"/>
<rect x="1646.3" y="293.4" width="4.2" height="1205.6" fill="#333333"/>
<rect x="1646.3" y="1008.8" width="4.2" height="490.2" fill="#000000"/>
<rect x="1650.5" y="1008.8" width="4.7" height="490.2" fill="#444444"/>
<rect x="1642.1" y="1440.0" width="4.2" height="59.0" fill="#000000"/>
<rect x="1655.2" y="457.5" width="4.6" height="1041.5" fill="#888888"/>
<rect x="1659.8" y="457.5" width="4.2" height="1041.5" fill="#555555"/>
<rect x="1659.8" y="1087.7" width="4.2" height="411.3" fill="#444444"/>
<rect x="1681.8" y="396.0" width="4.3" height="1103.0" fill="#333333"/>
<rect x="1686.1" y="396.0" width="4.4" height="1103.0" fill="#bbbbbb"/>
<rect x="1686.1" y="1000.0" width="4.4" height="499.0" fill="#999999"/>
<rect x="1673.2" y="457.5" width="4.2" height="1041.5" fill="#666666"/>
<rect x="1677.4" y="457.5" width="8.7" height="1041.5" fill="#000000"/>
<rect x="1695.0" y="1440.0" width="4.5" height="59.0" fill="#222222"/>
<rect x="1717.3" y="1262.0" width="4.6" height="237.0" fill="#888888"/>
<rect x="1721.9" y="1262.0" width="4.1" height="237.0" fill="#444444"/>
<rect x="1726.0" y="293.4" width="4.8" height="1205.6" fill="#888888"/>
<rect x="1730.8" y="293.4" width="4.5" height="1205.6" fill="#555555"/>
<rect x="1726.0" y="1173.0" width="9.3" height="326.0" fill="#686868"/>
<rect x="1730.8" y="1361.0" width="4.5" height="138.0" fill="#444444"/>
<rect x="1730.8" y="1440.0" width="22.2" height="59.0" fill="#777777"/>
<rect x="1744.2" y="293.4" width="4.5" height="1205.6" fill="#555555"/>
<rect x="1748.7" y="293.4" width="4.3" height="1205.6" fill="#888888"/>
<rect x="1744.2" y="1110.0" width="4.5" height="389.0" fill="#444444"/>
<rect x="1748.7" y="984.0" width="4.3" height="515.0" fill="#777777"/>
<rect x="1753.0" y="1382.0" width="4.6" height="117.0" fill="#444444"/>
<rect x="1757.6" y="1262.0" width="4.6" height="237.0" fill="#222222"/>
<rect x="1762.2" y="1262.0" width="4.2" height="237.0" fill="#999999"/>
<rect x="1757.6" y="1440.0" width="8.8" height="59.0" fill="#000000"/>
<rect x="1775.6" y="955.0" width="4.2" height="544.0" fill="#cccccc"/>
<rect x="1775.6" y="1208.0" width="4.2" height="291.0" fill="#aaaaaa"/>
<rect x="1779.8" y="955.0" width="4.2" height="544.0" fill="#333333"/>
<rect x="1788.2" y="1061.5" width="4.7" height="437.5" fill="#999999"/>
<rect x="1792.9" y="1061.5" width="4.5" height="437.5" fill="#333333"/>
<rect x="1792.9" y="1262.0" width="9.1" height="237.0" fill="#000000"/>
<rect x="1802.0" y="1262.0" width="4.3" height="237.0" fill="#666666"/>
<rect x="1815.0" y="1061.5" width="4.3" height="437.5" fill="#555555"/>
<rect x="1815.0" y="1136.0" width="4.3" height="363.0" fill="#444444"/>
<rect x="1819.3" y="1061.5" width="4.5" height="437.5" fill="#888888"/>
<rect x="1823.8" y="1440.0" width="4.7" height="59.0" fill="#555555"/>
<rect x="1828.5" y="408.8" width="4.7" height="1090.2" fill="#2a2a2a"/>
<rect x="1833.2" y="396.0" width="4.5" height="1103.0" fill="#000000"/>
<rect x="1837.7" y="396.0" width="4.3" height="1103.0" fill="#dddddd"/>
<rect x="1837.7" y="995.3" width="4.3" height="503.7" fill="#0a0a0a"/>
<rect x="1842.0" y="1440.0" width="4.2" height="59.0" fill="#bbbbbb"/>
<rect x="1846.2" y="1262.0" width="9.1" height="237.0" fill="#111111"/>
<rect x="1859.5" y="1440.0" width="9.3" height="59.0" fill="#666666"/>
</g>
<g id="axes">
<rect x="314" y="1492.6" width="1555" height="4.6" fill="#000" fill-opacity="0.55"/>
<rect x="306" y="63.5" width="8.3" height="1454" fill="#060606"/>
<rect x="304.6" y="63.5" width="1.4" height="1454" fill="#000" fill-opacity="0.12"/>
<rect x="306" y="1497" width="1567" height="5.8" fill="#000"/>
<rect x="314.3" y="1502.8" width="1558" height="3.8" fill="#c6c6c6"/>
<rect x="314" y="1440.6" width="17.6" height="5.2" fill="#404040"/>
<rect x="331.6" y="1440.6" width="4.6" height="5.2" fill="#8a8a8a"/>
<rect x="314" y="1437.6" width="22" height="3" fill="#000" fill-opacity="0.2"/>
<rect x="314" y="1383.3" width="17.6" height="5.2" fill="#404040"/>
<rect x="331.6" y="1383.3" width="4.6" height="5.2" fill="#8a8a8a"/>
<rect x="314" y="1388.5" width="22" height="3" fill="#000" fill-opacity="0.2"/>
<rect x="314" y="1326.0" width="17.6" height="5.2" fill="#404040"/>
<rect x="331.6" y="1326.0" width="4.6" height="5.2" fill="#8a8a8a"/>
<rect x="314" y="1323.0" width="22" height="3" fill="#000" fill-opacity="0.2"/>
<rect x="314" y="1268.7" width="17.6" height="5.2" fill="#404040"/>
<rect x="331.6" y="1268.7" width="4.6" height="5.2" fill="#8a8a8a"/>
<rect x="314" y="1273.9" width="22" height="3" fill="#000" fill-opacity="0.2"/>
<rect x="314" y="1207.2" width="36.5" height="7.6" fill="#050505"/>
<rect x="314" y="1205.0" width="32" height="2.2" fill="#000" fill-opacity="0.18"/>
<rect x="350.5" y="1209.8" width="4" height="5" fill="#000" fill-opacity="0.3"/>
<rect x="314" y="1154.1" width="17.6" height="5.2" fill="#404040"/>
<rect x="331.6" y="1154.1" width="4.6" height="5.2" fill="#8a8a8a"/>
<rect x="314" y="1159.3" width="22" height="3" fill="#000" fill-opacity="0.2"/>
<rect x="314" y="1096.8" width="17.6" height="5.2" fill="#404040"/>
<rect x="331.6" y="1096.8" width="4.6" height="5.2" fill="#8a8a8a"/>
<rect x="314" y="1093.8" width="22" height="3" fill="#000" fill-opacity="0.2"/>
<rect x="314" y="1039.5" width="17.6" height="5.2" fill="#404040"/>
<rect x="331.6" y="1039.5" width="4.6" height="5.2" fill="#8a8a8a"/>
<rect x="314" y="1044.7" width="22" height="3" fill="#000" fill-opacity="0.2"/>
<rect x="314" y="982.2" width="17.6" height="5.2" fill="#404040"/>
<rect x="331.6" y="982.2" width="4.6" height="5.2" fill="#8a8a8a"/>
<rect x="314" y="979.2" width="22" height="3" fill="#000" fill-opacity="0.2"/>
<rect x="314" y="920.7" width="36.5" height="7.6" fill="#050505"/>
<rect x="314" y="918.5" width="32" height="2.2" fill="#000" fill-opacity="0.18"/>
<rect x="350.5" y="923.3" width="4" height="5" fill="#000" fill-opacity="0.3"/>
<rect x="314" y="867.6" width="17.6" height="5.2" fill="#404040"/>
<rect x="331.6" y="867.6" width="4.6" height="5.2" fill="#8a8a8a"/>
<rect x="314" y="864.6" width="22" height="3" fill="#000" fill-opacity="0.2"/>
<rect x="314" y="810.3" width="17.6" height="5.2" fill="#404040"/>
<rect x="331.6" y="810.3" width="4.6" height="5.2" fill="#8a8a8a"/>
<rect x="314" y="815.5" width="22" height="3" fill="#000" fill-opacity="0.2"/>
<rect x="314" y="753.0" width="17.6" height="5.2" fill="#404040"/>
<rect x="331.6" y="753.0" width="4.6" height="5.2" fill="#8a8a8a"/>
<rect x="314" y="750.0" width="22" height="3" fill="#000" fill-opacity="0.2"/>
<rect x="314" y="695.7" width="17.6" height="5.2" fill="#404040"/>
<rect x="331.6" y="695.7" width="4.6" height="5.2" fill="#8a8a8a"/>
<rect x="314" y="700.9" width="22" height="3" fill="#000" fill-opacity="0.2"/>
<rect x="314" y="634.2" width="36.5" height="7.6" fill="#050505"/>
<rect x="314" y="632.0" width="32" height="2.2" fill="#000" fill-opacity="0.18"/>
<rect x="350.5" y="636.8" width="4" height="5" fill="#000" fill-opacity="0.3"/>
<rect x="314" y="581.1" width="17.6" height="5.2" fill="#404040"/>
<rect x="331.6" y="581.1" width="4.6" height="5.2" fill="#8a8a8a"/>
<rect x="314" y="586.3" width="22" height="3" fill="#000" fill-opacity="0.2"/>
<rect x="314" y="523.8" width="17.6" height="5.2" fill="#404040"/>
<rect x="331.6" y="523.8" width="4.6" height="5.2" fill="#8a8a8a"/>
<rect x="314" y="520.8" width="22" height="3" fill="#000" fill-opacity="0.2"/>
<rect x="314" y="466.5" width="17.6" height="5.2" fill="#404040"/>
<rect x="331.6" y="466.5" width="4.6" height="5.2" fill="#8a8a8a"/>
<rect x="314" y="471.7" width="22" height="3" fill="#000" fill-opacity="0.2"/>
<rect x="314" y="409.2" width="17.6" height="5.2" fill="#404040"/>
<rect x="331.6" y="409.2" width="4.6" height="5.2" fill="#8a8a8a"/>
<rect x="314" y="406.2" width="22" height="3" fill="#000" fill-opacity="0.2"/>
<rect x="314" y="347.7" width="36.5" height="7.6" fill="#050505"/>
<rect x="314" y="345.5" width="32" height="2.2" fill="#000" fill-opacity="0.18"/>
<rect x="350.5" y="350.3" width="4" height="5" fill="#000" fill-opacity="0.3"/>
<rect x="314" y="294.6" width="17.6" height="5.2" fill="#404040"/>
<rect x="331.6" y="294.6" width="4.6" height="5.2" fill="#8a8a8a"/>
<rect x="314" y="291.6" width="22" height="3" fill="#000" fill-opacity="0.2"/>
<rect x="314" y="237.3" width="17.6" height="5.2" fill="#404040"/>
<rect x="331.6" y="237.3" width="4.6" height="5.2" fill="#8a8a8a"/>
<rect x="314" y="242.5" width="22" height="3" fill="#000" fill-opacity="0.2"/>
<rect x="314" y="180.0" width="17.6" height="5.2" fill="#404040"/>
<rect x="331.6" y="180.0" width="4.6" height="5.2" fill="#8a8a8a"/>
<rect x="314" y="177.0" width="22" height="3" fill="#000" fill-opacity="0.2"/>
<rect x="314" y="122.7" width="17.6" height="5.2" fill="#404040"/>
<rect x="331.6" y="122.7" width="4.6" height="5.2" fill="#8a8a8a"/>
<rect x="314" y="127.9" width="22" height="3" fill="#000" fill-opacity="0.2"/>
<rect x="309.8" y="59.8" width="40.4" height="7.9" fill="#050505"/>
<rect x="350.2" y="62.5" width="4" height="5" fill="#000" fill-opacity="0.3"/>
<rect x="402.0" y="1502.5" width="4.4" height="17.5" fill="#4a4a4a"/>
<rect x="397.7" y="1502.5" width="4.2" height="17.5" fill="#a8a8a8"/>
<rect x="488.2" y="1502.5" width="4.4" height="17.5" fill="#4a4a4a"/>
<rect x="492.5" y="1502.5" width="4.2" height="17.5" fill="#a8a8a8"/>
<rect x="579.3" y="1502.5" width="4.4" height="17.5" fill="#4a4a4a"/>
<rect x="575.0" y="1502.5" width="4.2" height="17.5" fill="#a8a8a8"/>
<rect x="665.6" y="1502" width="7.6" height="16" fill="#0c0c0c"/>
<rect x="756.7" y="1502.5" width="4.4" height="17.5" fill="#4a4a4a"/>
<rect x="752.4" y="1502.5" width="4.2" height="17.5" fill="#a8a8a8"/>
<rect x="842.9" y="1502.5" width="4.4" height="17.5" fill="#4a4a4a"/>
<rect x="847.2" y="1502.5" width="4.2" height="17.5" fill="#a8a8a8"/>
<rect x="934.0" y="1502.5" width="4.4" height="17.5" fill="#4a4a4a"/>
<rect x="929.7" y="1502.5" width="4.2" height="17.5" fill="#a8a8a8"/>
<rect x="1020.3" y="1502" width="7.6" height="16" fill="#0c0c0c"/>
<rect x="1111.3" y="1502.5" width="4.4" height="17.5" fill="#4a4a4a"/>
<rect x="1107.0" y="1502.5" width="4.2" height="17.5" fill="#a8a8a8"/>
<rect x="1197.6" y="1502.5" width="4.4" height="17.5" fill="#4a4a4a"/>
<rect x="1201.9" y="1502.5" width="4.2" height="17.5" fill="#a8a8a8"/>
<rect x="1288.7" y="1502.5" width="4.4" height="17.5" fill="#4a4a4a"/>
<rect x="1284.4" y="1502.5" width="4.2" height="17.5" fill="#a8a8a8"/>
<rect x="1374.9" y="1502" width="7.6" height="16" fill="#0c0c0c"/>
<rect x="1466.0" y="1502.5" width="4.4" height="17.5" fill="#4a4a4a"/>
<rect x="1461.7" y="1502.5" width="4.2" height="17.5" fill="#a8a8a8"/>
<rect x="1552.3" y="1502.5" width="4.4" height="17.5" fill="#4a4a4a"/>
<rect x="1556.6" y="1502.5" width="4.2" height="17.5" fill="#a8a8a8"/>
<rect x="1643.3" y="1502.5" width="4.4" height="17.5" fill="#4a4a4a"/>
<rect x="1639.0" y="1502.5" width="4.2" height="17.5" fill="#a8a8a8"/>
<rect x="1729.6" y="1502" width="7.6" height="16" fill="#0c0c0c"/>
<rect x="1820.7" y="1502.5" width="4.4" height="17.5" fill="#4a4a4a"/>
<rect x="1816.4" y="1502.5" width="4.2" height="17.5" fill="#a8a8a8"/>
</g>
<g id="leaders">
<rect x="565.15" y="93.45" width="4.50" height="4.50" fill="#000" fill-opacity="0.70"/>
<rect x="560.70" y="97.90" width="4.50" height="4.50" fill="#000" fill-opacity="0.11"/>
<rect x="565.15" y="97.90" width="4.50" height="4.50" fill="#000" fill-opacity="0.93"/>
<rect x="569.60" y="97.90" width="4.50" height="4.50" fill="#000" fill-opacity="0.13"/>
<rect x="560.70" y="102.35" width="4.50" height="4.50" fill="#000" fill-opacity="0.40"/>
<rect x="565.15" y="102.35" width="4.50" height="4.50" fill="#000" fill-opacity="0.72"/>
<rect x="560.70" y="106.80" width="4.50" height="4.50" fill="#000" fill-opacity="0.69"/>
<rect x="565.15" y="106.80" width="4.50" height="4.50" fill="#000" fill-opacity="0.42"/>
<rect x="556.25" y="111.25" width="4.50" height="4.50" fill="#000" fill-opacity="0.10"/>
<rect x="560.70" y="111.25" width="4.50" height="4.50" fill="#000" fill-opacity="0.93"/>
<rect x="565.15" y="111.25" width="4.50" height="4.50" fill="#000" fill-opacity="0.13"/>
<rect x="556.25" y="115.70" width="4.50" height="4.50" fill="#000" fill-opacity="0.40"/>
<rect x="560.70" y="115.70" width="4.50" height="4.50" fill="#000" fill-opacity="0.72"/>
<rect x="556.25" y="120.15" width="4.50" height="4.50" fill="#000" fill-opacity="0.69"/>
<rect x="560.70" y="120.15" width="4.50" height="4.50" fill="#000" fill-opacity="0.43"/>
<rect x="551.80" y="124.60" width="4.50" height="4.50" fill="#000" fill-opacity="0.10"/>
<rect x="556.25" y="124.60" width="4.50" height="4.50" fill="#000" fill-opacity="0.93"/>
<rect x="560.70" y="124.60" width="4.50" height="4.50" fill="#000" fill-opacity="0.13"/>
<rect x="551.80" y="129.05" width="4.50" height="4.50" fill="#000" fill-opacity="0.40"/>
<rect x="556.25" y="129.05" width="4.50" height="4.50" fill="#000" fill-opacity="0.72"/>
<rect x="551.80" y="133.50" width="4.50" height="4.50" fill="#000" fill-opacity="0.69"/>
<rect x="556.25" y="133.50" width="4.50" height="4.50" fill="#000" fill-opacity="0.43"/>
<rect x="547.35" y="137.95" width="4.50" height="4.50" fill="#000" fill-opacity="0.10"/>
<rect x="551.80" y="137.95" width="4.50" height="4.50" fill="#000" fill-opacity="0.93"/>
<rect x="556.25" y="137.95" width="4.50" height="4.50" fill="#000" fill-opacity="0.13"/>
<rect x="547.35" y="142.40" width="4.50" height="4.50" fill="#000" fill-opacity="0.39"/>
<rect x="551.80" y="142.40" width="4.50" height="4.50" fill="#000" fill-opacity="0.72"/>
<rect x="547.35" y="146.85" width="4.50" height="4.50" fill="#000" fill-opacity="0.69"/>
<rect x="551.80" y="146.85" width="4.50" height="4.50" fill="#000" fill-opacity="0.43"/>
<rect x="542.90" y="151.30" width="4.50" height="4.50" fill="#000" fill-opacity="0.10"/>
<rect x="547.35" y="151.30" width="4.50" height="4.50" fill="#000" fill-opacity="0.93"/>
<rect x="551.80" y="151.30" width="4.50" height="4.50" fill="#000" fill-opacity="0.14"/>
<rect x="542.90" y="155.75" width="4.50" height="4.50" fill="#000" fill-opacity="0.39"/>
<rect x="547.35" y="155.75" width="4.50" height="4.50" fill="#000" fill-opacity="0.73"/>
<rect x="542.90" y="160.20" width="4.50" height="4.50" fill="#000" fill-opacity="0.68"/>
<rect x="547.35" y="160.20" width="4.50" height="4.50" fill="#000" fill-opacity="0.43"/>
<rect x="538.45" y="164.65" width="4.50" height="4.50" fill="#000" fill-opacity="0.10"/>
<rect x="542.90" y="164.65" width="4.50" height="4.50" fill="#000" fill-opacity="0.93"/>
<rect x="547.35" y="164.65" width="4.50" height="4.50" fill="#000" fill-opacity="0.14"/>
<rect x="538.45" y="169.10" width="4.50" height="4.50" fill="#000" fill-opacity="0.39"/>
<rect x="542.90" y="169.10" width="4.50" height="4.50" fill="#000" fill-opacity="0.73"/>
<rect x="538.45" y="173.55" width="4.50" height="4.50" fill="#000" fill-opacity="0.68"/>
<rect x="542.90" y="173.55" width="4.50" height="4.50" fill="#000" fill-opacity="0.44"/>
<rect x="534.00" y="178.00" width="4.50" height="4.50" fill="#000" fill-opacity="0.09"/>
<rect x="538.45" y="178.00" width="4.50" height="4.50" fill="#000" fill-opacity="0.93"/>
<rect x="542.90" y="178.00" width="4.50" height="4.50" fill="#000" fill-opacity="0.14"/>
<rect x="534.00" y="182.45" width="4.50" height="4.50" fill="#000" fill-opacity="0.39"/>
<rect x="538.45" y="182.45" width="4.50" height="4.50" fill="#000" fill-opacity="0.73"/>
<rect x="534.00" y="186.90" width="4.50" height="4.50" fill="#000" fill-opacity="0.68"/>
<rect x="538.45" y="186.90" width="4.50" height="4.50" fill="#000" fill-opacity="0.44"/>
<rect x="529.55" y="191.35" width="4.50" height="4.50" fill="#000" fill-opacity="0.09"/>
<rect x="534.00" y="191.35" width="4.50" height="4.50" fill="#000" fill-opacity="0.93"/>
<rect x="538.45" y="191.35" width="4.50" height="4.50" fill="#000" fill-opacity="0.14"/>
<rect x="529.55" y="195.80" width="4.50" height="4.50" fill="#000" fill-opacity="0.38"/>
<rect x="534.00" y="195.80" width="4.50" height="4.50" fill="#000" fill-opacity="0.73"/>
<rect x="529.55" y="200.25" width="4.50" height="4.50" fill="#000" fill-opacity="0.68"/>
<rect x="534.00" y="200.25" width="4.50" height="4.50" fill="#000" fill-opacity="0.44"/>
<rect x="525.10" y="204.70" width="4.50" height="4.50" fill="#000" fill-opacity="0.09"/>
<rect x="529.55" y="204.70" width="4.50" height="4.50" fill="#000" fill-opacity="0.93"/>
<rect x="534.00" y="204.70" width="4.50" height="4.50" fill="#000" fill-opacity="0.15"/>
<rect x="525.10" y="209.15" width="4.50" height="4.50" fill="#000" fill-opacity="0.38"/>
<rect x="529.55" y="209.15" width="4.50" height="4.50" fill="#000" fill-opacity="0.74"/>
<rect x="525.10" y="213.60" width="4.50" height="4.50" fill="#000" fill-opacity="0.67"/>
<rect x="529.55" y="213.60" width="4.50" height="4.50" fill="#000" fill-opacity="0.44"/>
<rect x="520.65" y="218.05" width="4.50" height="4.50" fill="#000" fill-opacity="0.09"/>
<rect x="525.10" y="218.05" width="4.50" height="4.50" fill="#000" fill-opacity="0.93"/>
<rect x="529.55" y="218.05" width="4.50" height="4.50" fill="#000" fill-opacity="0.15"/>
<rect x="520.65" y="222.50" width="4.50" height="4.50" fill="#000" fill-opacity="0.38"/>
<rect x="525.10" y="222.50" width="4.50" height="4.50" fill="#000" fill-opacity="0.74"/>
<rect x="520.65" y="226.95" width="4.50" height="4.50" fill="#000" fill-opacity="0.67"/>
<rect x="525.10" y="226.95" width="4.50" height="4.50" fill="#000" fill-opacity="0.44"/>
<rect x="516.20" y="231.40" width="4.50" height="4.50" fill="#000" fill-opacity="0.08"/>
<rect x="520.65" y="231.40" width="4.50" height="4.50" fill="#000" fill-opacity="0.93"/>
<rect x="525.10" y="231.40" width="4.50" height="4.50" fill="#000" fill-opacity="0.15"/>
<rect x="516.20" y="235.85" width="4.50" height="4.50" fill="#000" fill-opacity="0.38"/>
<rect x="520.65" y="235.85" width="4.50" height="4.50" fill="#000" fill-opacity="0.74"/>
<rect x="516.20" y="240.30" width="4.50" height="4.50" fill="#000" fill-opacity="0.67"/>
<rect x="520.65" y="240.30" width="4.50" height="4.50" fill="#000" fill-opacity="0.45"/>
<rect x="511.75" y="244.75" width="4.50" height="4.50" fill="#000" fill-opacity="0.08"/>
<rect x="516.20" y="244.75" width="4.50" height="4.50" fill="#000" fill-opacity="0.93"/>
<rect x="520.65" y="244.75" width="4.50" height="4.50" fill="#000" fill-opacity="0.15"/>
<rect x="511.75" y="249.20" width="4.50" height="4.50" fill="#000" fill-opacity="0.37"/>
<rect x="516.20" y="249.20" width="4.50" height="4.50" fill="#000" fill-opacity="0.74"/>
<rect x="511.75" y="253.65" width="4.50" height="4.50" fill="#000" fill-opacity="0.67"/>
<rect x="516.20" y="253.65" width="4.50" height="4.50" fill="#000" fill-opacity="0.45"/>
<rect x="507.30" y="258.10" width="4.50" height="4.50" fill="#000" fill-opacity="0.08"/>
<rect x="511.75" y="258.10" width="4.50" height="4.50" fill="#000" fill-opacity="0.93"/>
<rect x="516.20" y="258.10" width="4.50" height="4.50" fill="#000" fill-opacity="0.16"/>
<rect x="507.30" y="262.55" width="4.50" height="4.50" fill="#000" fill-opacity="0.37"/>
<rect x="511.75" y="262.55" width="4.50" height="4.50" fill="#000" fill-opacity="0.75"/>
<rect x="507.30" y="267.00" width="4.50" height="4.50" fill="#000" fill-opacity="0.67"/>
<rect x="511.75" y="267.00" width="4.50" height="4.50" fill="#000" fill-opacity="0.45"/>
<rect x="502.85" y="271.45" width="4.50" height="4.50" fill="#000" fill-opacity="0.08"/>
<rect x="507.30" y="271.45" width="4.50" height="4.50" fill="#000" fill-opacity="0.93"/>
<rect x="511.75" y="271.45" width="4.50" height="4.50" fill="#000" fill-opacity="0.16"/>
<rect x="502.85" y="275.90" width="4.50" height="4.50" fill="#000" fill-opacity="0.37"/>
<rect x="507.30" y="275.90" width="4.50" height="4.50" fill="#000" fill-opacity="0.75"/>
<rect x="502.85" y="280.35" width="4.50" height="4.50" fill="#000" fill-opacity="0.66"/>
<rect x="507.30" y="280.35" width="4.50" height="4.50" fill="#000" fill-opacity="0.45"/>
<rect x="498.40" y="284.80" width="4.50" height="4.50" fill="#000" fill-opacity="0.07"/>
<rect x="502.85" y="284.80" width="4.50" height="4.50" fill="#000" fill-opacity="0.93"/>
<rect x="507.30" y="284.80" width="4.50" height="4.50" fill="#000" fill-opacity="0.16"/>
<rect x="498.40" y="289.25" width="4.50" height="4.50" fill="#000" fill-opacity="0.37"/>
<rect x="502.85" y="289.25" width="4.50" height="4.50" fill="#000" fill-opacity="0.75"/>
<rect x="498.40" y="293.70" width="4.50" height="4.50" fill="#000" fill-opacity="0.66"/>
<rect x="502.85" y="293.70" width="4.50" height="4.50" fill="#000" fill-opacity="0.46"/>
<rect x="493.95" y="298.15" width="4.50" height="4.50" fill="#000" fill-opacity="0.07"/>
<rect x="498.40" y="298.15" width="4.50" height="4.50" fill="#000" fill-opacity="0.93"/>
<rect x="502.85" y="298.15" width="4.50" height="4.50" fill="#000" fill-opacity="0.16"/>
<rect x="493.95" y="302.60" width="4.50" height="4.50" fill="#000" fill-opacity="0.36"/>
<rect x="498.40" y="302.60" width="4.50" height="4.50" fill="#000" fill-opacity="0.75"/>
<rect x="493.95" y="307.05" width="4.50" height="4.50" fill="#000" fill-opacity="0.66"/>
<rect x="498.40" y="307.05" width="4.50" height="4.50" fill="#000" fill-opacity="0.46"/>
<rect x="489.50" y="311.50" width="4.50" height="4.50" fill="#000" fill-opacity="0.07"/>
<rect x="493.95" y="311.50" width="4.50" height="4.50" fill="#000" fill-opacity="0.93"/>
<rect x="498.40" y="311.50" width="4.50" height="4.50" fill="#000" fill-opacity="0.17"/>
<rect x="489.50" y="315.95" width="4.50" height="4.50" fill="#000" fill-opacity="0.36"/>
<rect x="493.95" y="315.95" width="4.50" height="4.50" fill="#000" fill-opacity="0.75"/>
<rect x="489.50" y="320.40" width="4.50" height="4.50" fill="#000" fill-opacity="0.66"/>
<rect x="493.95" y="320.40" width="4.50" height="4.50" fill="#000" fill-opacity="0.46"/>
<rect x="485.05" y="324.85" width="4.50" height="4.50" fill="#000" fill-opacity="0.07"/>
<rect x="489.50" y="324.85" width="4.50" height="4.50" fill="#000" fill-opacity="0.93"/>
<rect x="493.95" y="324.85" width="4.50" height="4.50" fill="#000" fill-opacity="0.17"/>
<rect x="485.05" y="329.30" width="4.50" height="4.50" fill="#000" fill-opacity="0.36"/>
<rect x="489.50" y="329.30" width="4.50" height="4.50" fill="#000" fill-opacity="0.76"/>
<rect x="485.05" y="333.75" width="4.50" height="4.50" fill="#000" fill-opacity="0.65"/>
<rect x="489.50" y="333.75" width="4.50" height="4.50" fill="#000" fill-opacity="0.46"/>
<rect x="480.60" y="338.20" width="4.50" height="4.50" fill="#000" fill-opacity="0.06"/>
<rect x="485.05" y="338.20" width="4.50" height="4.50" fill="#000" fill-opacity="0.93"/>
<rect x="489.50" y="338.20" width="4.50" height="4.50" fill="#000" fill-opacity="0.17"/>
<rect x="480.60" y="342.65" width="4.50" height="4.50" fill="#000" fill-opacity="0.36"/>
<rect x="485.05" y="342.65" width="4.50" height="4.50" fill="#000" fill-opacity="0.76"/>
<rect x="480.60" y="347.10" width="4.50" height="4.50" fill="#000" fill-opacity="0.65"/>
<rect x="485.05" y="347.10" width="4.50" height="4.50" fill="#000" fill-opacity="0.47"/>
<rect x="476.15" y="351.55" width="4.50" height="4.50" fill="#000" fill-opacity="0.06"/>
<rect x="480.60" y="351.55" width="4.50" height="4.50" fill="#000" fill-opacity="0.93"/>
<rect x="485.05" y="351.55" width="4.50" height="4.50" fill="#000" fill-opacity="0.17"/>
<rect x="476.15" y="356.00" width="4.50" height="4.50" fill="#000" fill-opacity="0.36"/>
<rect x="480.60" y="356.00" width="4.50" height="4.50" fill="#000" fill-opacity="0.76"/>
<rect x="476.15" y="360.45" width="4.50" height="4.50" fill="#000" fill-opacity="0.65"/>
<rect x="480.60" y="360.45" width="4.50" height="4.50" fill="#000" fill-opacity="0.47"/>
<rect x="471.70" y="364.90" width="4.50" height="4.50" fill="#000" fill-opacity="0.06"/>
<rect x="476.15" y="364.90" width="4.50" height="4.50" fill="#000" fill-opacity="0.93"/>
<rect x="480.60" y="364.90" width="4.50" height="4.50" fill="#000" fill-opacity="0.17"/>
<rect x="471.70" y="369.35" width="4.50" height="4.50" fill="#000" fill-opacity="0.35"/>
<rect x="476.15" y="369.35" width="4.50" height="4.50" fill="#000" fill-opacity="0.76"/>
<rect x="471.70" y="373.80" width="4.50" height="4.50" fill="#000" fill-opacity="0.65"/>
<rect x="476.15" y="373.80" width="4.50" height="4.50" fill="#000" fill-opacity="0.47"/>
<rect x="467.25" y="378.25" width="4.50" height="4.50" fill="#000" fill-opacity="0.06"/>
<rect x="471.70" y="378.25" width="4.50" height="4.50" fill="#000" fill-opacity="0.93"/>
<rect x="476.15" y="378.25" width="4.50" height="4.50" fill="#000" fill-opacity="0.18"/>
<rect x="467.25" y="382.70" width="4.50" height="4.50" fill="#000" fill-opacity="0.35"/>
<rect x="471.70" y="382.70" width="4.50" height="4.50" fill="#000" fill-opacity="0.77"/>
<rect x="467.25" y="387.15" width="4.50" height="4.50" fill="#000" fill-opacity="0.64"/>
<rect x="471.70" y="387.15" width="4.50" height="4.50" fill="#000" fill-opacity="0.47"/>
<rect x="462.80" y="391.60" width="4.50" height="4.50" fill="#000" fill-opacity="0.05"/>
<rect x="467.25" y="391.60" width="4.50" height="4.50" fill="#000" fill-opacity="0.93"/>
<rect x="471.70" y="391.60" width="4.50" height="4.50" fill="#000" fill-opacity="0.18"/>
<rect x="462.80" y="396.05" width="4.50" height="4.50" fill="#000" fill-opacity="0.35"/>
<rect x="467.25" y="396.05" width="4.50" height="4.50" fill="#000" fill-opacity="0.77"/>
<rect x="462.80" y="400.50" width="4.50" height="4.50" fill="#000" fill-opacity="0.64"/>
<rect x="467.25" y="400.50" width="4.50" height="4.50" fill="#000" fill-opacity="0.48"/>
<rect x="458.35" y="404.95" width="4.50" height="4.50" fill="#000" fill-opacity="0.05"/>
<rect x="462.80" y="404.95" width="4.50" height="4.50" fill="#000" fill-opacity="0.93"/>
<rect x="467.25" y="404.95" width="4.50" height="4.50" fill="#000" fill-opacity="0.18"/>
<rect x="458.35" y="409.40" width="4.50" height="4.50" fill="#000" fill-opacity="0.35"/>
<rect x="462.80" y="409.40" width="4.50" height="4.50" fill="#000" fill-opacity="0.77"/>
<rect x="458.35" y="413.85" width="4.50" height="4.50" fill="#000" fill-opacity="0.64"/>
<rect x="462.80" y="413.85" width="4.50" height="4.50" fill="#000" fill-opacity="0.48"/>
<rect x="453.90" y="418.30" width="4.50" height="4.50" fill="#000" fill-opacity="0.05"/>
<rect x="458.35" y="418.30" width="4.50" height="4.50" fill="#000" fill-opacity="0.93"/>
<rect x="462.80" y="418.30" width="4.50" height="4.50" fill="#000" fill-opacity="0.18"/>
<rect x="453.90" y="422.75" width="4.50" height="4.50" fill="#000" fill-opacity="0.34"/>
<rect x="458.35" y="422.75" width="4.50" height="4.50" fill="#000" fill-opacity="0.77"/>
<rect x="453.90" y="427.20" width="4.50" height="4.50" fill="#000" fill-opacity="0.64"/>
<rect x="458.35" y="427.20" width="4.50" height="4.50" fill="#000" fill-opacity="0.48"/>
<rect x="449.45" y="431.65" width="4.50" height="4.50" fill="#000" fill-opacity="0.05"/>
<rect x="453.90" y="431.65" width="4.50" height="4.50" fill="#000" fill-opacity="0.93"/>
<rect x="458.35" y="431.65" width="4.50" height="4.50" fill="#000" fill-opacity="0.19"/>
<rect x="449.45" y="436.10" width="4.50" height="4.50" fill="#000" fill-opacity="0.34"/>
<rect x="453.90" y="436.10" width="4.50" height="4.50" fill="#000" fill-opacity="0.78"/>
<rect x="449.45" y="440.55" width="4.50" height="4.50" fill="#000" fill-opacity="0.63"/>
<rect x="453.90" y="440.55" width="4.50" height="4.50" fill="#000" fill-opacity="0.48"/>
<rect x="445.00" y="445.00" width="4.50" height="4.50" fill="#000" fill-opacity="0.05"/>
<rect x="449.45" y="445.00" width="4.50" height="4.50" fill="#000" fill-opacity="0.93"/>
<rect x="453.90" y="445.00" width="4.50" height="4.50" fill="#000" fill-opacity="0.19"/>
<rect x="445.00" y="449.45" width="4.50" height="4.50" fill="#000" fill-opacity="0.34"/>
<rect x="449.45" y="449.45" width="4.50" height="4.50" fill="#000" fill-opacity="0.78"/>
<rect x="445.00" y="453.90" width="4.50" height="4.50" fill="#000" fill-opacity="0.63"/>
<rect x="449.45" y="453.90" width="4.50" height="4.50" fill="#000" fill-opacity="0.48"/>
<rect x="440.55" y="458.35" width="4.50" height="4.50" fill="#000" fill-opacity="0.04"/>
<rect x="445.00" y="458.35" width="4.50" height="4.50" fill="#000" fill-opacity="0.93"/>
<rect x="449.45" y="458.35" width="4.50" height="4.50" fill="#000" fill-opacity="0.19"/>
<rect x="440.55" y="462.80" width="4.50" height="4.50" fill="#000" fill-opacity="0.34"/>
<rect x="445.00" y="462.80" width="4.50" height="4.50" fill="#000" fill-opacity="0.78"/>
<rect x="440.55" y="467.25" width="4.50" height="4.50" fill="#000" fill-opacity="0.63"/>
<rect x="445.00" y="467.25" width="4.50" height="4.50" fill="#000" fill-opacity="0.49"/>
<rect x="436.10" y="471.70" width="4.50" height="4.50" fill="#000" fill-opacity="0.04"/>
<rect x="440.55" y="471.70" width="4.50" height="4.50" fill="#000" fill-opacity="0.92"/>
<rect x="445.00" y="471.70" width="4.50" height="4.50" fill="#000" fill-opacity="0.19"/>
<rect x="436.10" y="476.15" width="4.50" height="4.50" fill="#000" fill-opacity="0.33"/>
<rect x="440.55" y="476.15" width="4.50" height="4.50" fill="#000" fill-opacity="0.78"/>
<rect x="436.10" y="480.60" width="4.50" height="4.50" fill="#000" fill-opacity="0.63"/>
<rect x="440.55" y="480.60" width="4.50" height="4.50" fill="#000" fill-opacity="0.49"/>
<rect x="431.65" y="485.05" width="4.50" height="4.50" fill="#000" fill-opacity="0.04"/>
<rect x="436.10" y="485.05" width="4.50" height="4.50" fill="#000" fill-opacity="0.92"/>
<rect x="440.55" y="485.05" width="4.50" height="4.50" fill="#000" fill-opacity="0.20"/>
<rect x="431.65" y="489.50" width="4.50" height="4.50" fill="#000" fill-opacity="0.33"/>
<rect x="436.10" y="489.50" width="4.50" height="4.50" fill="#000" fill-opacity="0.79"/>
<rect x="431.65" y="493.95" width="4.50" height="4.50" fill="#000" fill-opacity="0.63"/>
<rect x="436.10" y="493.95" width="4.50" height="4.50" fill="#000" fill-opacity="0.49"/>
<rect x="431.65" y="498.40" width="4.50" height="4.50" fill="#000" fill-opacity="0.92"/>
<rect x="436.10" y="498.40" width="4.50" height="4.50" fill="#000" fill-opacity="0.20"/>
<rect x="427.20" y="502.85" width="4.50" height="4.50" fill="#000" fill-opacity="0.33"/>
<rect x="431.65" y="502.85" width="4.50" height="4.50" fill="#000" fill-opacity="0.79"/>
<rect x="427.20" y="507.30" width="4.50" height="4.50" fill="#000" fill-opacity="0.62"/>
<rect x="431.65" y="507.30" width="4.50" height="4.50" fill="#000" fill-opacity="0.49"/>
<rect x="427.20" y="511.75" width="4.50" height="4.50" fill="#000" fill-opacity="0.92"/>
<rect x="431.65" y="511.75" width="4.50" height="4.50" fill="#000" fill-opacity="0.20"/>
<rect x="422.75" y="516.20" width="4.50" height="4.50" fill="#000" fill-opacity="0.33"/>
<rect x="427.20" y="516.20" width="4.50" height="4.50" fill="#000" fill-opacity="0.79"/>
<rect x="422.75" y="520.65" width="4.50" height="4.50" fill="#000" fill-opacity="0.62"/>
<rect x="427.20" y="520.65" width="4.50" height="4.50" fill="#000" fill-opacity="0.50"/>
<rect x="422.75" y="525.10" width="4.50" height="4.50" fill="#000" fill-opacity="0.91"/>
<rect x="427.20" y="525.10" width="4.50" height="4.50" fill="#000" fill-opacity="0.20"/>
<rect x="418.30" y="529.55" width="4.50" height="4.50" fill="#000" fill-opacity="0.32"/>
<rect x="422.75" y="529.55" width="4.50" height="4.50" fill="#000" fill-opacity="0.79"/>
<rect x="418.30" y="534.00" width="4.50" height="4.50" fill="#000" fill-opacity="0.62"/>
<rect x="422.75" y="534.00" width="4.50" height="4.50" fill="#000" fill-opacity="0.50"/>
<rect x="418.30" y="538.45" width="4.50" height="4.50" fill="#000" fill-opacity="0.91"/>
<rect x="422.75" y="538.45" width="4.50" height="4.50" fill="#000" fill-opacity="0.21"/>
<rect x="413.85" y="542.90" width="4.50" height="4.50" fill="#000" fill-opacity="0.32"/>
<rect x="418.30" y="542.90" width="4.50" height="4.50" fill="#000" fill-opacity="0.79"/>
<rect x="1112.50" y="293.70" width="4.50" height="4.50" fill="#000" fill-opacity="0.15"/>
<rect x="1116.95" y="293.70" width="4.50" height="4.50" fill="#000" fill-opacity="0.93"/>
<rect x="1121.40" y="293.70" width="4.50" height="4.50" fill="#000" fill-opacity="0.08"/>
<rect x="1112.50" y="298.15" width="4.50" height="4.50" fill="#000" fill-opacity="0.45"/>
<rect x="1116.95" y="298.15" width="4.50" height="4.50" fill="#000" fill-opacity="0.67"/>
<rect x="1112.50" y="302.60" width="4.50" height="4.50" fill="#000" fill-opacity="0.75"/>
<rect x="1116.95" y="302.60" width="4.50" height="4.50" fill="#000" fill-opacity="0.37"/>
<rect x="1108.05" y="307.05" width="4.50" height="4.50" fill="#000" fill-opacity="0.17"/>
<rect x="1112.50" y="307.05" width="4.50" height="4.50" fill="#000" fill-opacity="0.93"/>
<rect x="1116.95" y="307.05" width="4.50" height="4.50" fill="#000" fill-opacity="0.07"/>
<rect x="1108.05" y="311.50" width="4.50" height="4.50" fill="#000" fill-opacity="0.47"/>
<rect x="1112.50" y="311.50" width="4.50" height="4.50" fill="#000" fill-opacity="0.65"/>
<rect x="1108.05" y="315.95" width="4.50" height="4.50" fill="#000" fill-opacity="0.76"/>
<rect x="1112.50" y="315.95" width="4.50" height="4.50" fill="#000" fill-opacity="0.35"/>
<rect x="1103.60" y="320.40" width="4.50" height="4.50" fill="#000" fill-opacity="0.18"/>
<rect x="1108.05" y="320.40" width="4.50" height="4.50" fill="#000" fill-opacity="0.93"/>
<rect x="1112.50" y="320.40" width="4.50" height="4.50" fill="#000" fill-opacity="0.06"/>
<rect x="1103.60" y="324.85" width="4.50" height="4.50" fill="#000" fill-opacity="0.48"/>
<rect x="1108.05" y="324.85" width="4.50" height="4.50" fill="#000" fill-opacity="0.64"/>
<rect x="1103.60" y="329.30" width="4.50" height="4.50" fill="#000" fill-opacity="0.78"/>
<rect x="1108.05" y="329.30" width="4.50" height="4.50" fill="#000" fill-opacity="0.34"/>
<rect x="1099.15" y="333.75" width="4.50" height="4.50" fill="#000" fill-opacity="0.20"/>
<rect x="1103.60" y="333.75" width="4.50" height="4.50" fill="#000" fill-opacity="0.92"/>
<rect x="1108.05" y="333.75" width="4.50" height="4.50" fill="#000" fill-opacity="0.04"/>
<rect x="1099.15" y="338.20" width="4.50" height="4.50" fill="#000" fill-opacity="0.49"/>
<rect x="1103.60" y="338.20" width="4.50" height="4.50" fill="#000" fill-opacity="0.62"/>
<rect x="1099.15" y="342.65" width="4.50" height="4.50" fill="#000" fill-opacity="0.79"/>
<rect x="1103.60" y="342.65" width="4.50" height="4.50" fill="#000" fill-opacity="0.33"/>
<rect x="1094.70" y="347.10" width="4.50" height="4.50" fill="#000" fill-opacity="0.21"/>
<rect x="1099.15" y="347.10" width="4.50" height="4.50" fill="#000" fill-opacity="0.91"/>
<rect x="1094.70" y="351.55" width="4.50" height="4.50" fill="#000" fill-opacity="0.51"/>
<rect x="1099.15" y="351.55" width="4.50" height="4.50" fill="#000" fill-opacity="0.61"/>
<rect x="1094.70" y="356.00" width="4.50" height="4.50" fill="#000" fill-opacity="0.81"/>
<rect x="1099.15" y="356.00" width="4.50" height="4.50" fill="#000" fill-opacity="0.31"/>
<rect x="1090.25" y="360.45" width="4.50" height="4.50" fill="#000" fill-opacity="0.22"/>
<rect x="1094.70" y="360.45" width="4.50" height="4.50" fill="#000" fill-opacity="0.89"/>
<rect x="1090.25" y="364.90" width="4.50" height="4.50" fill="#000" fill-opacity="0.52"/>
<rect x="1094.70" y="364.90" width="4.50" height="4.50" fill="#000" fill-opacity="0.60"/>
<rect x="1090.25" y="369.35" width="4.50" height="4.50" fill="#000" fill-opacity="0.82"/>
<rect x="1094.70" y="369.35" width="4.50" height="4.50" fill="#000" fill-opacity="0.30"/>
<rect x="1085.80" y="373.80" width="4.50" height="4.50" fill="#000" fill-opacity="0.24"/>
<rect x="1090.25" y="373.80" width="4.50" height="4.50" fill="#000" fill-opacity="0.88"/>
<rect x="1085.80" y="378.25" width="4.50" height="4.50" fill="#000" fill-opacity="0.54"/>
<rect x="1090.25" y="378.25" width="4.50" height="4.50" fill="#000" fill-opacity="0.58"/>
<rect x="1085.80" y="382.70" width="4.50" height="4.50" fill="#000" fill-opacity="0.83"/>
<rect x="1090.25" y="382.70" width="4.50" height="4.50" fill="#000" fill-opacity="0.28"/>
<rect x="1081.35" y="387.15" width="4.50" height="4.50" fill="#000" fill-opacity="0.25"/>
<rect x="1085.80" y="387.15" width="4.50" height="4.50" fill="#000" fill-opacity="0.87"/>
<rect x="1081.35" y="391.60" width="4.50" height="4.50" fill="#000" fill-opacity="0.55"/>
<rect x="1085.80" y="391.60" width="4.50" height="4.50" fill="#000" fill-opacity="0.57"/>
<rect x="1081.35" y="396.05" width="4.50" height="4.50" fill="#000" fill-opacity="0.85"/>
<rect x="1085.80" y="396.05" width="4.50" height="4.50" fill="#000" fill-opacity="0.27"/>
<rect x="1076.90" y="400.50" width="4.50" height="4.50" fill="#000" fill-opacity="0.27"/>
<rect x="1081.35" y="400.50" width="4.50" height="4.50" fill="#000" fill-opacity="0.85"/>
<rect x="1076.90" y="404.95" width="4.50" height="4.50" fill="#000" fill-opacity="0.56"/>
<rect x="1081.35" y="404.95" width="4.50" height="4.50" fill="#000" fill-opacity="0.56"/>
<rect x="1076.90" y="409.40" width="4.50" height="4.50" fill="#000" fill-opacity="0.86"/>
<rect x="1081.35" y="409.40" width="4.50" height="4.50" fill="#000" fill-opacity="0.26"/>
<rect x="1072.45" y="413.85" width="4.50" height="4.50" fill="#000" fill-opacity="0.28"/>
<rect x="1076.90" y="413.85" width="4.50" height="4.50" fill="#000" fill-opacity="0.84"/>
<rect x="1072.45" y="418.30" width="4.50" height="4.50" fill="#000" fill-opacity="0.58"/>
<rect x="1076.90" y="418.30" width="4.50" height="4.50" fill="#000" fill-opacity="0.54"/>
<rect x="1072.45" y="422.75" width="4.50" height="4.50" fill="#000" fill-opacity="0.88"/>
<rect x="1076.90" y="422.75" width="4.50" height="4.50" fill="#000" fill-opacity="0.24"/>
<rect x="1068.00" y="427.20" width="4.50" height="4.50" fill="#000" fill-opacity="0.29"/>
<rect x="1072.45" y="427.20" width="4.50" height="4.50" fill="#000" fill-opacity="0.83"/>
<rect x="1068.00" y="431.65" width="4.50" height="4.50" fill="#000" fill-opacity="0.59"/>
<rect x="1072.45" y="431.65" width="4.50" height="4.50" fill="#000" fill-opacity="0.53"/>
<rect x="1068.00" y="436.10" width="4.50" height="4.50" fill="#000" fill-opacity="0.89"/>
<rect x="1072.45" y="436.10" width="4.50" height="4.50" fill="#000" fill-opacity="0.23"/>
<rect x="1063.55" y="440.55" width="4.50" height="4.50" fill="#000" fill-opacity="0.31"/>
<rect x="1068.00" y="440.55" width="4.50" height="4.50" fill="#000" fill-opacity="0.81"/>
<rect x="1063.55" y="445.00" width="4.50" height="4.50" fill="#000" fill-opacity="0.60"/>
<rect x="1068.00" y="445.00" width="4.50" height="4.50" fill="#000" fill-opacity="0.51"/>
<rect x="1063.55" y="449.45" width="4.50" height="4.50" fill="#000" fill-opacity="0.90"/>
<rect x="1068.00" y="449.45" width="4.50" height="4.50" fill="#000" fill-opacity="0.22"/>
<rect x="1059.10" y="453.90" width="4.50" height="4.50" fill="#000" fill-opacity="0.32"/>
<rect x="1063.55" y="453.90" width="4.50" height="4.50" fill="#000" fill-opacity="0.80"/>
<rect x="1059.10" y="458.35" width="4.50" height="4.50" fill="#000" fill-opacity="0.62"/>
<rect x="1063.55" y="458.35" width="4.50" height="4.50" fill="#000" fill-opacity="0.50"/>
<rect x="1059.10" y="462.80" width="4.50" height="4.50" fill="#000" fill-opacity="0.92"/>
<rect x="1063.55" y="462.80" width="4.50" height="4.50" fill="#000" fill-opacity="0.20"/>
<rect x="1054.65" y="467.25" width="4.50" height="4.50" fill="#000" fill-opacity="0.33"/>
<rect x="1059.10" y="467.25" width="4.50" height="4.50" fill="#000" fill-opacity="0.78"/>
<rect x="1054.65" y="471.70" width="4.50" height="4.50" fill="#000" fill-opacity="0.63"/>
<rect x="1059.10" y="471.70" width="4.50" height="4.50" fill="#000" fill-opacity="0.49"/>
<rect x="1050.20" y="476.15" width="4.50" height="4.50" fill="#000" fill-opacity="0.05"/>
<rect x="1054.65" y="476.15" width="4.50" height="4.50" fill="#000" fill-opacity="0.93"/>
<rect x="1059.10" y="476.15" width="4.50" height="4.50" fill="#000" fill-opacity="0.19"/>
<rect x="1050.20" y="480.60" width="4.50" height="4.50" fill="#000" fill-opacity="0.35"/>
<rect x="1054.65" y="480.60" width="4.50" height="4.50" fill="#000" fill-opacity="0.77"/>
<rect x="1050.20" y="485.05" width="4.50" height="4.50" fill="#000" fill-opacity="0.65"/>
<rect x="1054.65" y="485.05" width="4.50" height="4.50" fill="#000" fill-opacity="0.47"/>
<rect x="1045.75" y="489.50" width="4.50" height="4.50" fill="#000" fill-opacity="0.06"/>
<rect x="1050.20" y="489.50" width="4.50" height="4.50" fill="#000" fill-opacity="0.93"/>
<rect x="1054.65" y="489.50" width="4.50" height="4.50" fill="#000" fill-opacity="0.17"/>
<rect x="1045.75" y="493.95" width="4.50" height="4.50" fill="#000" fill-opacity="0.36"/>
<rect x="1050.20" y="493.95" width="4.50" height="4.50" fill="#000" fill-opacity="0.76"/>
<rect x="1045.75" y="498.40" width="4.50" height="4.50" fill="#000" fill-opacity="0.66"/>
<rect x="1050.20" y="498.40" width="4.50" height="4.50" fill="#000" fill-opacity="0.46"/>
<rect x="1041.30" y="502.85" width="4.50" height="4.50" fill="#000" fill-opacity="0.08"/>
<rect x="1045.75" y="502.85" width="4.50" height="4.50" fill="#000" fill-opacity="0.93"/>
<rect x="1050.20" y="502.85" width="4.50" height="4.50" fill="#000" fill-opacity="0.16"/>
<rect x="1041.30" y="507.30" width="4.50" height="4.50" fill="#000" fill-opacity="0.38"/>
<rect x="1045.75" y="507.30" width="4.50" height="4.50" fill="#000" fill-opacity="0.74"/>
<rect x="1041.30" y="511.75" width="4.50" height="4.50" fill="#000" fill-opacity="0.67"/>
<rect x="1045.75" y="511.75" width="4.50" height="4.50" fill="#000" fill-opacity="0.44"/>
<rect x="1036.85" y="516.20" width="4.50" height="4.50" fill="#000" fill-opacity="0.09"/>
<rect x="1041.30" y="516.20" width="4.50" height="4.50" fill="#000" fill-opacity="0.93"/>
<rect x="1045.75" y="516.20" width="4.50" height="4.50" fill="#000" fill-opacity="0.15"/>
<rect x="1036.85" y="520.65" width="4.50" height="4.50" fill="#000" fill-opacity="0.39"/>
<rect x="1041.30" y="520.65" width="4.50" height="4.50" fill="#000" fill-opacity="0.73"/>
<rect x="1036.85" y="525.10" width="4.50" height="4.50" fill="#000" fill-opacity="0.69"/>
<rect x="1041.30" y="525.10" width="4.50" height="4.50" fill="#000" fill-opacity="0.43"/>
<rect x="1032.40" y="529.55" width="4.50" height="4.50" fill="#000" fill-opacity="0.11"/>
<rect x="1036.85" y="529.55" width="4.50" height="4.50" fill="#000" fill-opacity="0.93"/>
<rect x="1041.30" y="529.55" width="4.50" height="4.50" fill="#000" fill-opacity="0.13"/>
<rect x="1032.40" y="534.00" width="4.50" height="4.50" fill="#000" fill-opacity="0.40"/>
<rect x="1036.85" y="534.00" width="4.50" height="4.50" fill="#000" fill-opacity="0.72"/>
<rect x="1032.40" y="538.45" width="4.50" height="4.50" fill="#000" fill-opacity="0.70"/>
<rect x="1036.85" y="538.45" width="4.50" height="4.50" fill="#000" fill-opacity="0.42"/>
<rect x="1027.95" y="542.90" width="4.50" height="4.50" fill="#000" fill-opacity="0.12"/>
<rect x="1032.40" y="542.90" width="4.50" height="4.50" fill="#000" fill-opacity="0.93"/>
<rect x="1036.85" y="542.90" width="4.50" height="4.50" fill="#000" fill-opacity="0.12"/>
<rect x="1027.95" y="547.35" width="4.50" height="4.50" fill="#000" fill-opacity="0.42"/>
<rect x="1032.40" y="547.35" width="4.50" height="4.50" fill="#000" fill-opacity="0.70"/>
<rect x="1027.95" y="551.80" width="4.50" height="4.50" fill="#000" fill-opacity="0.72"/>
<rect x="1032.40" y="551.80" width="4.50" height="4.50" fill="#000" fill-opacity="0.40"/>
<rect x="1023.50" y="556.25" width="4.50" height="4.50" fill="#000" fill-opacity="0.13"/>
<rect x="1027.95" y="556.25" width="4.50" height="4.50" fill="#000" fill-opacity="0.93"/>
<rect x="1032.40" y="556.25" width="4.50" height="4.50" fill="#000" fill-opacity="0.10"/>
<rect x="1023.50" y="560.70" width="4.50" height="4.50" fill="#000" fill-opacity="0.43"/>
<rect x="1027.95" y="560.70" width="4.50" height="4.50" fill="#000" fill-opacity="0.69"/>
<rect x="1023.50" y="565.15" width="4.50" height="4.50" fill="#000" fill-opacity="0.73"/>
<rect x="1027.95" y="565.15" width="4.50" height="4.50" fill="#000" fill-opacity="0.39"/>
<rect x="1019.05" y="569.60" width="4.50" height="4.50" fill="#000" fill-opacity="0.15"/>
<rect x="1023.50" y="569.60" width="4.50" height="4.50" fill="#000" fill-opacity="0.93"/>
<rect x="1027.95" y="569.60" width="4.50" height="4.50" fill="#000" fill-opacity="0.09"/>
<rect x="1019.05" y="574.05" width="4.50" height="4.50" fill="#000" fill-opacity="0.44"/>
<rect x="1023.50" y="574.05" width="4.50" height="4.50" fill="#000" fill-opacity="0.67"/>
<rect x="1019.05" y="578.50" width="4.50" height="4.50" fill="#000" fill-opacity="0.74"/>
<rect x="1023.50" y="578.50" width="4.50" height="4.50" fill="#000" fill-opacity="0.38"/>
<rect x="1014.60" y="582.95" width="4.50" height="4.50" fill="#000" fill-opacity="0.16"/>
<rect x="1019.05" y="582.95" width="4.50" height="4.50" fill="#000" fill-opacity="0.93"/>
<rect x="1023.50" y="582.95" width="4.50" height="4.50" fill="#000" fill-opacity="0.08"/>
<rect x="1014.60" y="587.40" width="4.50" height="4.50" fill="#000" fill-opacity="0.46"/>
<rect x="1019.05" y="587.40" width="4.50" height="4.50" fill="#000" fill-opacity="0.66"/>
<rect x="1014.60" y="591.85" width="4.50" height="4.50" fill="#000" fill-opacity="0.76"/>
<rect x="1019.05" y="591.85" width="4.50" height="4.50" fill="#000" fill-opacity="0.36"/>
<rect x="1010.15" y="596.30" width="4.50" height="4.50" fill="#000" fill-opacity="0.17"/>
<rect x="1014.60" y="596.30" width="4.50" height="4.50" fill="#000" fill-opacity="0.93"/>
<rect x="1019.05" y="596.30" width="4.50" height="4.50" fill="#000" fill-opacity="0.06"/>
<rect x="1010.15" y="600.75" width="4.50" height="4.50" fill="#000" fill-opacity="0.47"/>
<rect x="1014.60" y="600.75" width="4.50" height="4.50" fill="#000" fill-opacity="0.65"/>
<rect x="1010.15" y="605.20" width="4.50" height="4.50" fill="#000" fill-opacity="0.77"/>
<rect x="1014.60" y="605.20" width="4.50" height="4.50" fill="#000" fill-opacity="0.35"/>
<rect x="1005.70" y="609.65" width="4.50" height="4.50" fill="#000" fill-opacity="0.19"/>
<rect x="1010.15" y="609.65" width="4.50" height="4.50" fill="#000" fill-opacity="0.93"/>
<rect x="1014.60" y="609.65" width="4.50" height="4.50" fill="#000" fill-opacity="0.05"/>
<rect x="1005.70" y="614.10" width="4.50" height="4.50" fill="#000" fill-opacity="0.49"/>
<rect x="1010.15" y="614.10" width="4.50" height="4.50" fill="#000" fill-opacity="0.63"/>
<rect x="1005.70" y="618.55" width="4.50" height="4.50" fill="#000" fill-opacity="0.78"/>
<rect x="1010.15" y="618.55" width="4.50" height="4.50" fill="#000" fill-opacity="0.33"/>
<rect x="1001.25" y="623.00" width="4.50" height="4.50" fill="#000" fill-opacity="0.20"/>
<rect x="1005.70" y="623.00" width="4.50" height="4.50" fill="#000" fill-opacity="0.92"/>
<rect x="1001.25" y="627.45" width="4.50" height="4.50" fill="#000" fill-opacity="0.50"/>
<rect x="1005.70" y="627.45" width="4.50" height="4.50" fill="#000" fill-opacity="0.62"/>
<rect x="1001.25" y="631.90" width="4.50" height="4.50" fill="#000" fill-opacity="0.80"/>
<rect x="1005.70" y="631.90" width="4.50" height="4.50" fill="#000" fill-opacity="0.32"/>
<rect x="996.80" y="636.35" width="4.50" height="4.50" fill="#000" fill-opacity="0.22"/>
<rect x="1001.25" y="636.35" width="4.50" height="4.50" fill="#000" fill-opacity="0.90"/>
<rect x="996.80" y="640.80" width="4.50" height="4.50" fill="#000" fill-opacity="0.51"/>
<rect x="1001.25" y="640.80" width="4.50" height="4.50" fill="#000" fill-opacity="0.60"/>
<rect x="996.80" y="645.25" width="4.50" height="4.50" fill="#000" fill-opacity="0.81"/>
<rect x="1001.25" y="645.25" width="4.50" height="4.50" fill="#000" fill-opacity="0.31"/>
<rect x="992.35" y="649.70" width="4.50" height="4.50" fill="#000" fill-opacity="0.23"/>
<rect x="996.80" y="649.70" width="4.50" height="4.50" fill="#000" fill-opacity="0.89"/>
<rect x="992.35" y="654.15" width="4.50" height="4.50" fill="#000" fill-opacity="0.53"/>
<rect x="996.80" y="654.15" width="4.50" height="4.50" fill="#000" fill-opacity="0.59"/>
<rect x="992.35" y="658.60" width="4.50" height="4.50" fill="#000" fill-opacity="0.83"/>
<rect x="996.80" y="658.60" width="4.50" height="4.50" fill="#000" fill-opacity="0.29"/>
<rect x="987.90" y="663.05" width="4.50" height="4.50" fill="#000" fill-opacity="0.24"/>
<rect x="992.35" y="663.05" width="4.50" height="4.50" fill="#000" fill-opacity="0.88"/>
<rect x="987.90" y="667.50" width="4.50" height="4.50" fill="#000" fill-opacity="0.54"/>
<rect x="992.35" y="667.50" width="4.50" height="4.50" fill="#000" fill-opacity="0.58"/>
<rect x="987.90" y="671.95" width="4.50" height="4.50" fill="#000" fill-opacity="0.84"/>
<rect x="992.35" y="671.95" width="4.50" height="4.50" fill="#000" fill-opacity="0.28"/>
<rect x="983.45" y="676.40" width="4.50" height="4.50" fill="#000" fill-opacity="0.26"/>
<rect x="987.90" y="676.40" width="4.50" height="4.50" fill="#000" fill-opacity="0.86"/>
<rect x="983.45" y="680.85" width="4.50" height="4.50" fill="#000" fill-opacity="0.56"/>
<rect x="987.90" y="680.85" width="4.50" height="4.50" fill="#000" fill-opacity="0.56"/>
<rect x="983.45" y="685.30" width="4.50" height="4.50" fill="#000" fill-opacity="0.85"/>
<rect x="987.90" y="685.30" width="4.50" height="4.50" fill="#000" fill-opacity="0.26"/>
<rect x="979.00" y="689.75" width="4.50" height="4.50" fill="#000" fill-opacity="0.27"/>
<rect x="983.45" y="689.75" width="4.50" height="4.50" fill="#000" fill-opacity="0.85"/>
<rect x="979.00" y="694.20" width="4.50" height="4.50" fill="#000" fill-opacity="0.57"/>
<rect x="983.45" y="694.20" width="4.50" height="4.50" fill="#000" fill-opacity="0.55"/>
<rect x="979.00" y="698.65" width="4.50" height="4.50" fill="#000" fill-opacity="0.87"/>
<rect x="983.45" y="698.65" width="4.50" height="4.50" fill="#000" fill-opacity="0.25"/>
<rect x="974.55" y="703.10" width="4.50" height="4.50" fill="#000" fill-opacity="0.28"/>
<rect x="979.00" y="703.10" width="4.50" height="4.50" fill="#000" fill-opacity="0.83"/>
<rect x="974.55" y="707.55" width="4.50" height="4.50" fill="#000" fill-opacity="0.58"/>
<rect x="979.00" y="707.55" width="4.50" height="4.50" fill="#000" fill-opacity="0.54"/>
<rect x="974.55" y="712.00" width="4.50" height="4.50" fill="#000" fill-opacity="0.88"/>
<rect x="979.00" y="712.00" width="4.50" height="4.50" fill="#000" fill-opacity="0.24"/>
<rect x="970.10" y="716.45" width="4.50" height="4.50" fill="#000" fill-opacity="0.30"/>
<rect x="974.55" y="716.45" width="4.50" height="4.50" fill="#000" fill-opacity="0.82"/>
<rect x="970.10" y="720.90" width="4.50" height="4.50" fill="#000" fill-opacity="0.60"/>
<rect x="974.55" y="720.90" width="4.50" height="4.50" fill="#000" fill-opacity="0.52"/>
<rect x="970.10" y="725.35" width="4.50" height="4.50" fill="#000" fill-opacity="0.90"/>
<rect x="974.55" y="725.35" width="4.50" height="4.50" fill="#000" fill-opacity="0.22"/>
<rect x="965.65" y="729.80" width="4.50" height="4.50" fill="#000" fill-opacity="0.31"/>
<rect x="970.10" y="729.80" width="4.50" height="4.50" fill="#000" fill-opacity="0.81"/>
<rect x="965.65" y="734.25" width="4.50" height="4.50" fill="#000" fill-opacity="0.61"/>
<rect x="970.10" y="734.25" width="4.50" height="4.50" fill="#000" fill-opacity="0.51"/>
<rect x="965.65" y="738.70" width="4.50" height="4.50" fill="#000" fill-opacity="0.91"/>
<rect x="970.10" y="738.70" width="4.50" height="4.50" fill="#000" fill-opacity="0.21"/>
</g>
</g>
<g filter="url(#bt)">
<text x="289.9" y="1522.4" font-size="64.0" text-anchor="end" letter-spacing="-4.30" fill="#4a4a58">0</text>
<text x="289.9" y="1233.2" font-size="64.0" text-anchor="end" letter-spacing="-4.30" fill="#4a4a58">500</text>
<text x="289.9" y="949.6" font-size="64.0" text-anchor="end" letter-spacing="-4.30" fill="#4a4a58">1000</text>
<text x="289.9" y="660.1" font-size="64.0" text-anchor="end" letter-spacing="-4.30" fill="#4a4a58">1500</text>
<text x="289.9" y="375.7" font-size="64.0" text-anchor="end" letter-spacing="-4.30" fill="#4a4a58">2000</text>
<text x="289.9" y="86.4" font-size="64.0" text-anchor="end" letter-spacing="-4.30" fill="#4a4a58">2500</text>
<text x="311.7" y="1560.0" font-size="64.0" text-anchor="middle" letter-spacing="-3.90" fill="#4a4a58">0</text>
<text x="666.4" y="1560.0" font-size="64.0" text-anchor="middle" letter-spacing="-3.90" fill="#4a4a58">2000</text>
<text x="1021.1" y="1560.0" font-size="64.0" text-anchor="middle" letter-spacing="-3.90" fill="#4a4a58">4000</text>
<text x="1375.7" y="1560.0" font-size="64.0" text-anchor="middle" letter-spacing="-3.90" fill="#4a4a58">6000</text>
<text x="1730.4" y="1560.0" font-size="64.0" text-anchor="middle" letter-spacing="-3.90" fill="#4a4a58">8000</text>
<text x="43.0" y="183.0" font-size="67.0" text-anchor="start" letter-spacing="0.00" fill="#111" stroke="#111" stroke-width="0.6" stroke-opacity="0.6">kW</text>
<text x="1609.0" y="1667.0" font-size="69.0" text-anchor="start" letter-spacing="-0.60" fill="#111" stroke="#111" stroke-width="0.6" stroke-opacity="0.6">Hour</text>
<text x="565.2" y="112.2" font-size="91" fill="#111">P<tspan font-size="56" dy="5" dx="-1.5">W</tspan></text>
<text x="1130.5" y="299.6" font-size="91" fill="#111">P<tspan font-size="57.5" dy="4.9" dx="-4.6">PV</tspan></text>
</g>
</svg></body></html>
